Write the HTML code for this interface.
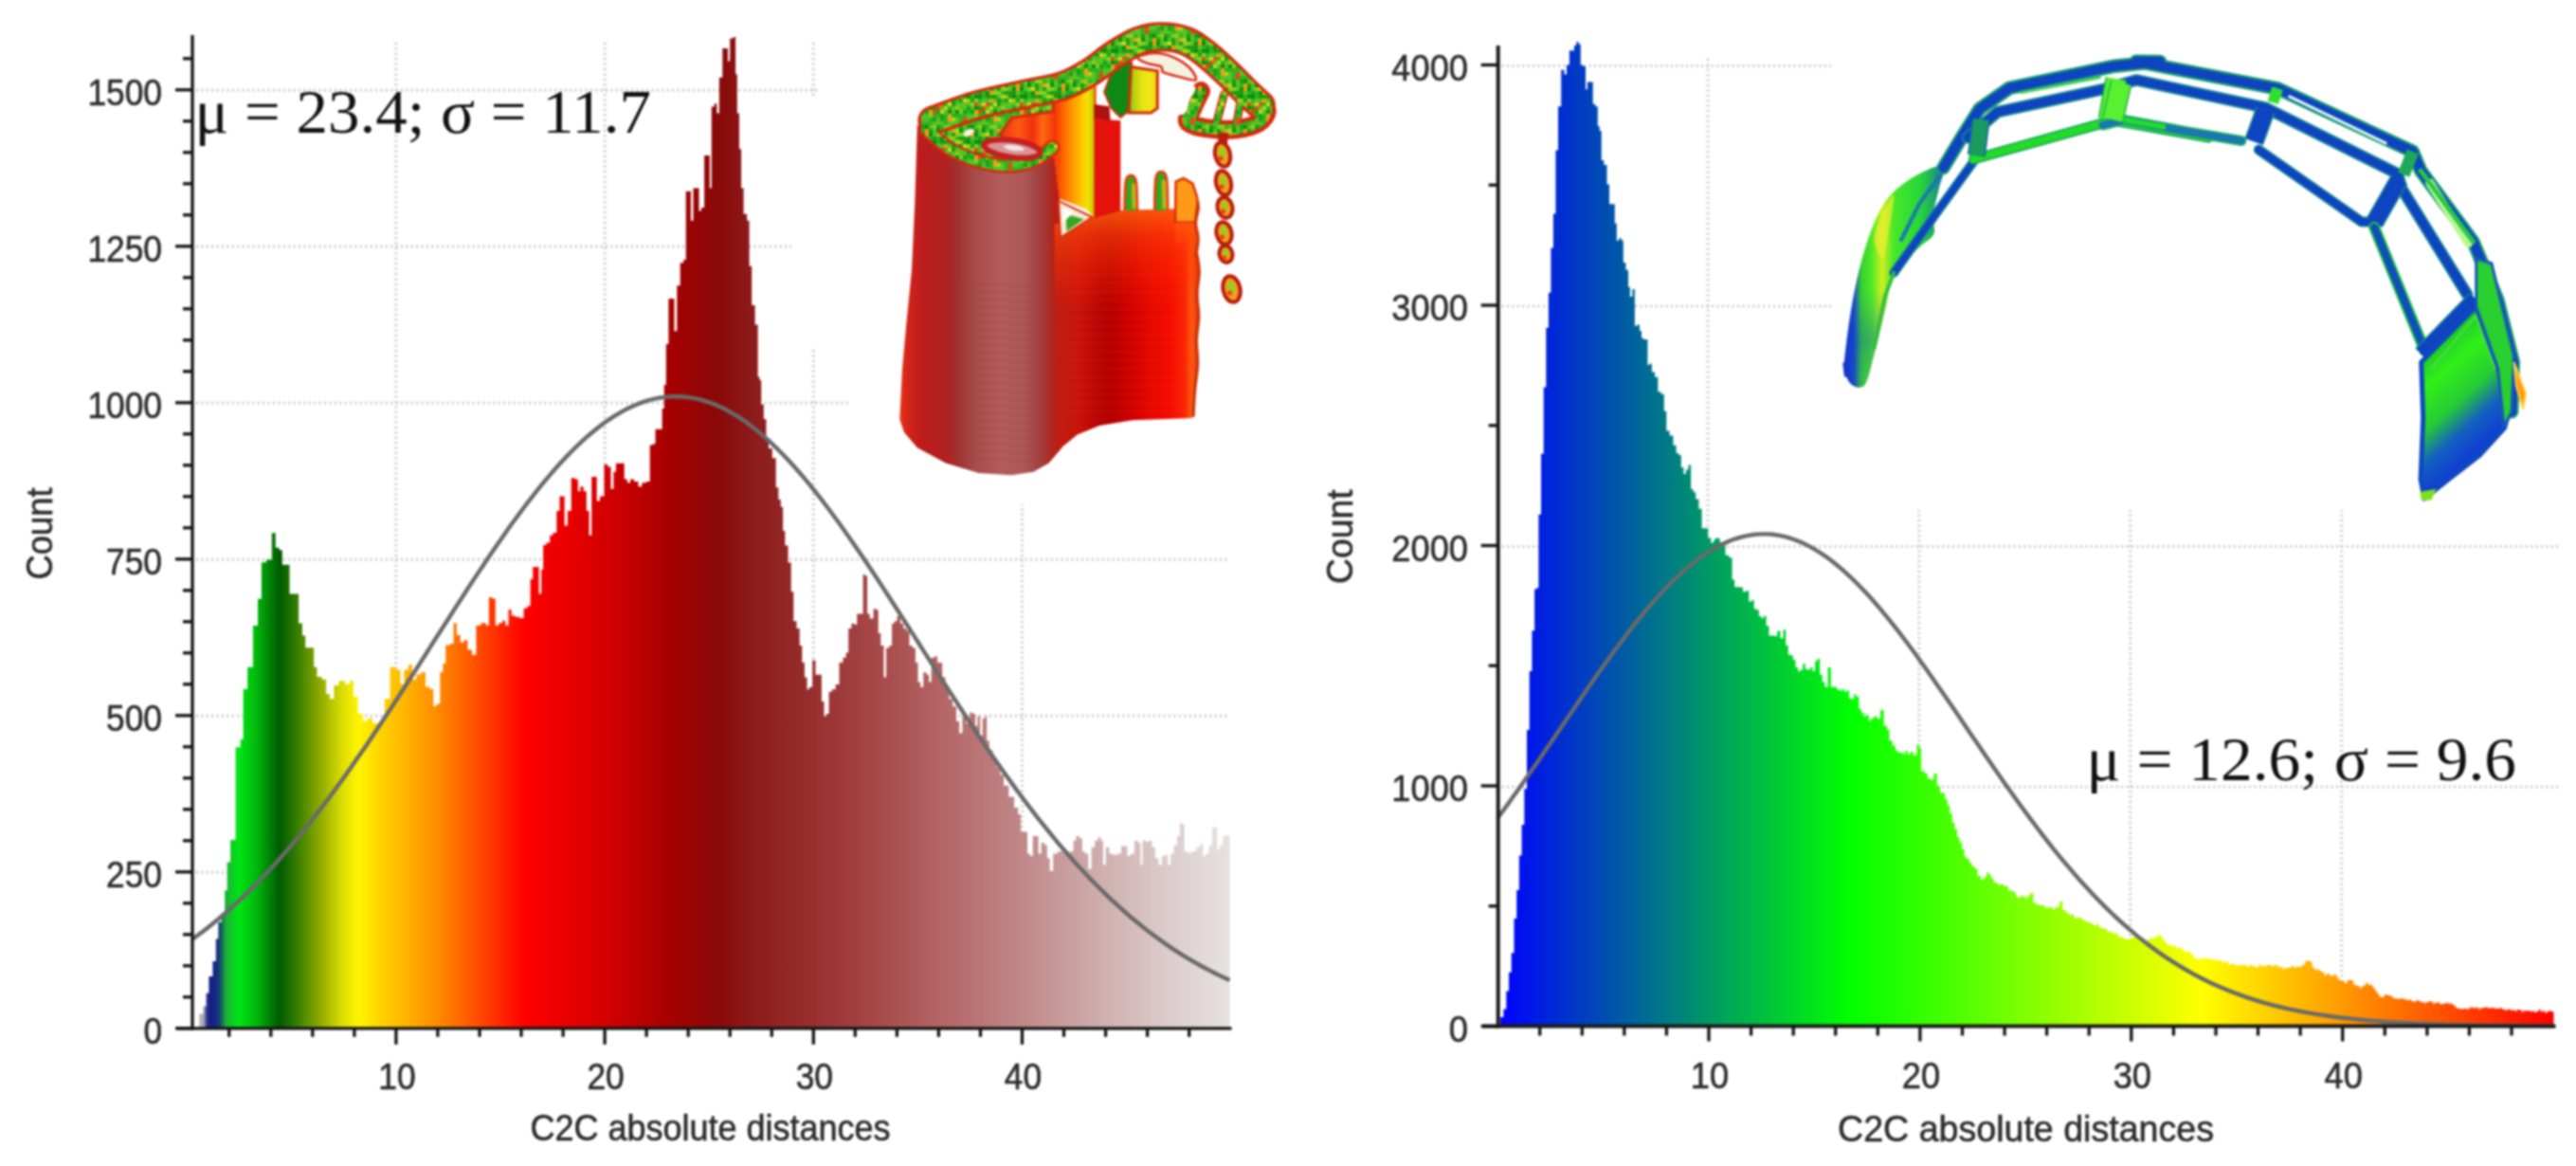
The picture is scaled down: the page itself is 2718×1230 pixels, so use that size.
<!DOCTYPE html>
<html><head><meta charset="utf-8"><title>C2C absolute distances</title>
<style>html,body{margin:0;padding:0;background:#fff}body{width:2718px;height:1230px;overflow:hidden;font-family:"Liberation Sans",sans-serif}svg{display:block}#wrap{width:2718px;height:1230px;filter:blur(1px)}</style>
</head><body>
<div id="wrap">
<svg width="2718" height="1230" viewBox="0 0 2718 1230">
<defs>
<linearGradient id="gl" gradientUnits="userSpaceOnUse" x1="197.7" y1="0" x2="1298.7" y2="0">
<stop offset="0.0090" stop-color="#d0d0d0"/>
<stop offset="0.0160" stop-color="#a0a0a8"/>
<stop offset="0.0180" stop-color="#40469a"/>
<stop offset="0.0210" stop-color="#141e82"/>
<stop offset="0.0280" stop-color="#162a84"/>
<stop offset="0.0324" stop-color="#155a60"/>
<stop offset="0.0370" stop-color="#1cb038"/>
<stop offset="0.0490" stop-color="#00e614"/>
<stop offset="0.0660" stop-color="#00b80c"/>
<stop offset="0.0884" stop-color="#005a00"/>
<stop offset="0.1020" stop-color="#2a7800"/>
<stop offset="0.1260" stop-color="#8aa800"/>
<stop offset="0.1480" stop-color="#dadc00"/>
<stop offset="0.1640" stop-color="#fff500"/>
<stop offset="0.1820" stop-color="#ffd800"/>
<stop offset="0.2400" stop-color="#ff8a00"/>
<stop offset="0.2800" stop-color="#ff4a00"/>
<stop offset="0.3230" stop-color="#ff0000"/>
<stop offset="0.4000" stop-color="#d40000"/>
<stop offset="0.4600" stop-color="#a80000"/>
<stop offset="0.5060" stop-color="#8a0808"/>
<stop offset="0.5400" stop-color="#8c1a1a"/>
<stop offset="0.6000" stop-color="#982f2f"/>
<stop offset="0.6600" stop-color="#a64848"/>
<stop offset="0.7200" stop-color="#b46464"/>
<stop offset="0.8000" stop-color="#c08888"/>
<stop offset="0.8800" stop-color="#d0b0b0"/>
<stop offset="0.9400" stop-color="#dccccc"/>
<stop offset="1.0000" stop-color="#e6e2e2"/>
</linearGradient>
<linearGradient id="gr" gradientUnits="userSpaceOnUse" x1="1580.1" y1="0" x2="2694.6" y2="0">
<stop offset="0.0000" stop-color="#0000ff"/>
<stop offset="0.3334" stop-color="#00ff00"/>
<stop offset="0.6666" stop-color="#ffff00"/>
<stop offset="1.0000" stop-color="#ff0000"/>
</linearGradient>
<pattern id="spk" width="48" height="48" patternUnits="userSpaceOnUse"><rect width="48" height="48" fill="#2fb41e"/><rect x="0" y="4" width="4" height="4" fill="#b8d81c"/><rect x="0" y="12" width="4" height="4" fill="#60c020"/><rect x="0" y="16" width="4" height="4" fill="#8ed020"/><rect x="0" y="20" width="4" height="4" fill="#0e8a10"/><rect x="0" y="28" width="4" height="4" fill="#60c020"/><rect x="0" y="32" width="4" height="4" fill="#60c020"/><rect x="0" y="36" width="4" height="4" fill="#48c828"/><rect x="0" y="40" width="4" height="4" fill="#b8d81c"/><rect x="0" y="44" width="4" height="4" fill="#8ed020"/><rect x="4" y="0" width="4" height="4" fill="#1e9a12"/><rect x="4" y="4" width="4" height="4" fill="#8ed020"/><rect x="4" y="8" width="4" height="4" fill="#1e9a12"/><rect x="4" y="12" width="4" height="4" fill="#48c828"/><rect x="4" y="16" width="4" height="4" fill="#60c020"/><rect x="4" y="20" width="4" height="4" fill="#8ed020"/><rect x="4" y="36" width="4" height="4" fill="#1e9a12"/><rect x="4" y="40" width="4" height="4" fill="#0e8a10"/><rect x="4" y="44" width="4" height="4" fill="#8ed020"/><rect x="8" y="0" width="4" height="4" fill="#1e9a12"/><rect x="8" y="4" width="4" height="4" fill="#1e9a12"/><rect x="8" y="8" width="4" height="4" fill="#d8d820"/><rect x="8" y="12" width="4" height="4" fill="#60c020"/><rect x="8" y="16" width="4" height="4" fill="#48c828"/><rect x="8" y="20" width="4" height="4" fill="#18a018"/><rect x="8" y="28" width="4" height="4" fill="#e84818"/><rect x="8" y="32" width="4" height="4" fill="#e84818"/><rect x="8" y="36" width="4" height="4" fill="#60c020"/><rect x="8" y="40" width="4" height="4" fill="#48c828"/><rect x="8" y="44" width="4" height="4" fill="#60c020"/><rect x="12" y="0" width="4" height="4" fill="#1e9a12"/><rect x="12" y="4" width="4" height="4" fill="#0e8a10"/><rect x="12" y="8" width="4" height="4" fill="#8ed020"/><rect x="12" y="12" width="4" height="4" fill="#60c020"/><rect x="12" y="16" width="4" height="4" fill="#18a018"/><rect x="12" y="24" width="4" height="4" fill="#48c828"/><rect x="12" y="28" width="4" height="4" fill="#60c020"/><rect x="12" y="36" width="4" height="4" fill="#18a018"/><rect x="12" y="44" width="4" height="4" fill="#0e8a10"/><rect x="16" y="0" width="4" height="4" fill="#60c020"/><rect x="16" y="8" width="4" height="4" fill="#18a018"/><rect x="16" y="12" width="4" height="4" fill="#8ed020"/><rect x="16" y="16" width="4" height="4" fill="#48c828"/><rect x="16" y="20" width="4" height="4" fill="#18a018"/><rect x="16" y="24" width="4" height="4" fill="#48c828"/><rect x="16" y="28" width="4" height="4" fill="#48c828"/><rect x="16" y="36" width="4" height="4" fill="#0e8a10"/><rect x="16" y="40" width="4" height="4" fill="#f0a018"/><rect x="16" y="44" width="4" height="4" fill="#f0a018"/><rect x="20" y="4" width="4" height="4" fill="#0e8a10"/><rect x="20" y="8" width="4" height="4" fill="#8ed020"/><rect x="20" y="12" width="4" height="4" fill="#e84818"/><rect x="20" y="16" width="4" height="4" fill="#0e8a10"/><rect x="20" y="20" width="4" height="4" fill="#f0a018"/><rect x="20" y="24" width="4" height="4" fill="#8ed020"/><rect x="20" y="36" width="4" height="4" fill="#60c020"/><rect x="20" y="40" width="4" height="4" fill="#1e9a12"/><rect x="20" y="44" width="4" height="4" fill="#0e8a10"/><rect x="24" y="0" width="4" height="4" fill="#18a018"/><rect x="24" y="4" width="4" height="4" fill="#0e8a10"/><rect x="24" y="12" width="4" height="4" fill="#60c020"/><rect x="24" y="16" width="4" height="4" fill="#18a018"/><rect x="24" y="20" width="4" height="4" fill="#e84818"/><rect x="24" y="28" width="4" height="4" fill="#1e9a12"/><rect x="24" y="32" width="4" height="4" fill="#60c020"/><rect x="24" y="36" width="4" height="4" fill="#8ed020"/><rect x="24" y="40" width="4" height="4" fill="#48c828"/><rect x="24" y="44" width="4" height="4" fill="#48c828"/><rect x="28" y="8" width="4" height="4" fill="#48c828"/><rect x="28" y="12" width="4" height="4" fill="#d8d820"/><rect x="28" y="16" width="4" height="4" fill="#e84818"/><rect x="28" y="20" width="4" height="4" fill="#18a018"/><rect x="28" y="28" width="4" height="4" fill="#60c020"/><rect x="28" y="32" width="4" height="4" fill="#60c020"/><rect x="28" y="36" width="4" height="4" fill="#1e9a12"/><rect x="28" y="40" width="4" height="4" fill="#0e8a10"/><rect x="28" y="44" width="4" height="4" fill="#8ed020"/><rect x="32" y="0" width="4" height="4" fill="#0e8a10"/><rect x="32" y="4" width="4" height="4" fill="#1e9a12"/><rect x="32" y="8" width="4" height="4" fill="#48c828"/><rect x="32" y="12" width="4" height="4" fill="#e84818"/><rect x="32" y="16" width="4" height="4" fill="#60c020"/><rect x="32" y="20" width="4" height="4" fill="#d8d820"/><rect x="32" y="24" width="4" height="4" fill="#18a018"/><rect x="32" y="28" width="4" height="4" fill="#18a018"/><rect x="32" y="32" width="4" height="4" fill="#48c828"/><rect x="32" y="40" width="4" height="4" fill="#48c828"/><rect x="32" y="44" width="4" height="4" fill="#d8d820"/><rect x="36" y="0" width="4" height="4" fill="#f0a018"/><rect x="36" y="4" width="4" height="4" fill="#18a018"/><rect x="36" y="8" width="4" height="4" fill="#f0a018"/><rect x="36" y="16" width="4" height="4" fill="#b8d81c"/><rect x="36" y="20" width="4" height="4" fill="#48c828"/><rect x="36" y="36" width="4" height="4" fill="#8ed020"/><rect x="36" y="40" width="4" height="4" fill="#1e9a12"/><rect x="36" y="44" width="4" height="4" fill="#18a018"/><rect x="40" y="0" width="4" height="4" fill="#8ed020"/><rect x="40" y="4" width="4" height="4" fill="#1e9a12"/><rect x="40" y="8" width="4" height="4" fill="#60c020"/><rect x="40" y="12" width="4" height="4" fill="#d8d820"/><rect x="40" y="20" width="4" height="4" fill="#0e8a10"/><rect x="40" y="24" width="4" height="4" fill="#f0a018"/><rect x="40" y="28" width="4" height="4" fill="#f0a018"/><rect x="40" y="32" width="4" height="4" fill="#60c020"/><rect x="40" y="36" width="4" height="4" fill="#8ed020"/><rect x="40" y="40" width="4" height="4" fill="#60c020"/><rect x="40" y="44" width="4" height="4" fill="#60c020"/><rect x="44" y="0" width="4" height="4" fill="#8ed020"/><rect x="44" y="4" width="4" height="4" fill="#48c828"/><rect x="44" y="8" width="4" height="4" fill="#1e9a12"/><rect x="44" y="12" width="4" height="4" fill="#1e9a12"/><rect x="44" y="16" width="4" height="4" fill="#60c020"/><rect x="44" y="20" width="4" height="4" fill="#48c828"/><rect x="44" y="28" width="4" height="4" fill="#b8d81c"/><rect x="44" y="32" width="4" height="4" fill="#48c828"/><rect x="44" y="40" width="4" height="4" fill="#f0a018"/><rect x="44" y="44" width="4" height="4" fill="#18a018"/></pattern>
<linearGradient id="cyl" gradientUnits="userSpaceOnUse" x1="950.0" y1="0" x2="1122.0" y2="0"><stop offset="0.0000" stop-color="#e83214"/><stop offset="0.0407" stop-color="#d42618"/><stop offset="0.1279" stop-color="#bc1c1c"/><stop offset="0.2791" stop-color="#b02020"/><stop offset="0.3488" stop-color="#a03030"/><stop offset="0.4535" stop-color="#a84a4a"/><stop offset="0.6163" stop-color="#b25c5c"/><stop offset="0.7500" stop-color="#ae5858"/><stop offset="0.8721" stop-color="#a03c3c"/><stop offset="0.9419" stop-color="#b42218"/><stop offset="1.0000" stop-color="#c8160c"/></linearGradient>
<linearGradient id="rbody" gradientUnits="userSpaceOnUse" x1="1116.0" y1="0" x2="1266.0" y2="0"><stop offset="0.0000" stop-color="#be1e14"/><stop offset="0.1400" stop-color="#c8140a"/><stop offset="0.2933" stop-color="#b80404"/><stop offset="0.3733" stop-color="#b40000"/><stop offset="0.5267" stop-color="#d20000"/><stop offset="0.6600" stop-color="#e60800"/><stop offset="0.7933" stop-color="#f40c00"/><stop offset="0.8933" stop-color="#fa2404"/><stop offset="0.9400" stop-color="#ff5a10"/><stop offset="0.9733" stop-color="#f0420c"/><stop offset="1.0000" stop-color="#d83008"/></linearGradient>
<linearGradient id="rtop" gradientUnits="userSpaceOnUse" x1="0" y1="215.0" x2="0" y2="330.0"><stop offset="0.0000" stop-color="#ff7010" stop-opacity="0.85"/><stop offset="0.3043" stop-color="#ff4808" stop-opacity="0.55"/><stop offset="1.0000" stop-color="#ff2000" stop-opacity="0.0"/></linearGradient>
<linearGradient id="ocol" gradientUnits="userSpaceOnUse" x1="1110.0" y1="0" x2="1154.0" y2="0"><stop offset="0.0000" stop-color="#f42a08"/><stop offset="0.2273" stop-color="#ff5a00"/><stop offset="0.5000" stop-color="#ff9a00"/><stop offset="0.7273" stop-color="#ffc800"/><stop offset="0.8636" stop-color="#f0e400"/><stop offset="1.0000" stop-color="#c4c400"/></linearGradient>
<linearGradient id="back" gradientUnits="userSpaceOnUse" x1="1040.0" y1="0" x2="1112.0" y2="0"><stop offset="0.0000" stop-color="#e02010"/><stop offset="0.2778" stop-color="#f04010"/><stop offset="0.4861" stop-color="#ff5a10"/><stop offset="0.6944" stop-color="#f03010"/><stop offset="0.8333" stop-color="#ff6a10"/><stop offset="1.0000" stop-color="#f43a0c"/></linearGradient>
<linearGradient id="ycol" gradientUnits="userSpaceOnUse" x1="1190.0" y1="0" x2="1222.0" y2="0"><stop offset="0.0000" stop-color="#58b810"/><stop offset="0.1875" stop-color="#b4d010"/><stop offset="0.5000" stop-color="#e8e410"/><stop offset="0.7500" stop-color="#f0e818"/><stop offset="1.0000" stop-color="#e8d010"/></linearGradient>
<linearGradient id="leg" gradientUnits="userSpaceOnUse" x1="1945.0" y1="0" x2="2052.0" y2="0"><stop offset="0.0000" stop-color="#1030d0"/><stop offset="0.1028" stop-color="#1848c8"/><stop offset="0.1776" stop-color="#38d030"/><stop offset="0.2804" stop-color="#50e828"/><stop offset="0.3832" stop-color="#d0f020"/><stop offset="0.4953" stop-color="#48e828"/><stop offset="0.7477" stop-color="#28d838"/><stop offset="0.8879" stop-color="#20a868"/><stop offset="1.0000" stop-color="#1060b0"/></linearGradient>
<linearGradient id="p5" gradientUnits="userSpaceOnUse" x1="2560" y1="360" x2="2640" y2="450"><stop offset="0" stop-color="#18b830"/><stop offset="0.3" stop-color="#30f018"/><stop offset="0.58" stop-color="#26cc34"/><stop offset="0.8" stop-color="#1460c0"/><stop offset="1" stop-color="#1040d0"/></linearGradient>
<linearGradient id="legv" gradientUnits="userSpaceOnUse" x1="0" y1="230" x2="0" y2="400"><stop offset="0" stop-color="#1040d0" stop-opacity="0"/><stop offset="0.45" stop-color="#1040d0" stop-opacity="0"/><stop offset="0.75" stop-color="#1038d0" stop-opacity="0.3"/><stop offset="1" stop-color="#1050c0" stop-opacity="0.15"/></linearGradient>
</defs>
<rect width="2718" height="1230" fill="#fff"/>
<line x1="207.0" y1="920.1" x2="1297.5" y2="920.1" stroke="#cbcbcb" stroke-width="3.2" stroke-dasharray="2 3.4"/>
<line x1="207.0" y1="755.1" x2="1297.5" y2="755.1" stroke="#cbcbcb" stroke-width="3.2" stroke-dasharray="2 3.4"/>
<line x1="207.0" y1="590.1" x2="1297.5" y2="590.1" stroke="#cbcbcb" stroke-width="3.2" stroke-dasharray="2 3.4"/>
<line x1="207.0" y1="425.1" x2="1297.5" y2="425.1" stroke="#cbcbcb" stroke-width="3.2" stroke-dasharray="2 3.4"/>
<line x1="207.0" y1="260.1" x2="1297.5" y2="260.1" stroke="#cbcbcb" stroke-width="3.2" stroke-dasharray="2 3.4"/>
<line x1="207.0" y1="95.1" x2="1297.5" y2="95.1" stroke="#cbcbcb" stroke-width="3.2" stroke-dasharray="2 3.4"/>
<line x1="417.9" y1="45" x2="417.9" y2="1084.8" stroke="#cbcbcb" stroke-width="3.2" stroke-dasharray="2 3.4"/>
<line x1="638.1" y1="45" x2="638.1" y2="1084.8" stroke="#cbcbcb" stroke-width="3.2" stroke-dasharray="2 3.4"/>
<line x1="858.3" y1="45" x2="858.3" y2="1084.8" stroke="#cbcbcb" stroke-width="3.2" stroke-dasharray="2 3.4"/>
<line x1="1078.5" y1="45" x2="1078.5" y2="1084.8" stroke="#cbcbcb" stroke-width="3.2" stroke-dasharray="2 3.4"/>
<line x1="1584.7" y1="830.0" x2="2700.5" y2="830.0" stroke="#cbcbcb" stroke-width="3.2" stroke-dasharray="2 3.4"/>
<line x1="1584.7" y1="576.5" x2="2700.5" y2="576.5" stroke="#cbcbcb" stroke-width="3.2" stroke-dasharray="2 3.4"/>
<line x1="1584.7" y1="323.0" x2="2700.5" y2="323.0" stroke="#cbcbcb" stroke-width="3.2" stroke-dasharray="2 3.4"/>
<line x1="1584.7" y1="69.5" x2="2700.5" y2="69.5" stroke="#cbcbcb" stroke-width="3.2" stroke-dasharray="2 3.4"/>
<line x1="1802.0" y1="62" x2="1802.0" y2="1082.5" stroke="#cbcbcb" stroke-width="3.2" stroke-dasharray="2 3.4"/>
<line x1="2024.9" y1="62" x2="2024.9" y2="1082.5" stroke="#cbcbcb" stroke-width="3.2" stroke-dasharray="2 3.4"/>
<line x1="2247.8" y1="62" x2="2247.8" y2="1082.5" stroke="#cbcbcb" stroke-width="3.2" stroke-dasharray="2 3.4"/>
<line x1="2470.7" y1="62" x2="2470.7" y2="1082.5" stroke="#cbcbcb" stroke-width="3.2" stroke-dasharray="2 3.4"/>
<rect x="895" y="0" width="440" height="532" fill="#fff"/>
<rect x="862" y="0" width="40" height="104" fill="#fff"/>
<rect x="835" y="104" width="70" height="264" fill="#fff"/>
<rect x="1932" y="0" width="786" height="538" fill="#fff"/>
<path d="M207.0,1084.8L207.0,1083.2L210.1,1083.2L210.1,1069.4L214.5,1069.4L214.5,1061.5L217.5,1061.5L217.5,1047.7L220.4,1047.7L220.4,1029.9L224.4,1029.9L224.4,1014.1L227.8,1014.1L227.8,990.5L230.3,990.5L230.3,972.7L233.8,972.7L233.8,962.9L237.2,962.9L237.2,939.2L239.7,939.2L239.7,909.6L243.1,909.6L243.1,885.9L248.6,885.9L248.6,788.3L253.7,788.3L253.7,780.0L256.6,780.0L256.6,727.0L261.1,727.0L261.1,703.8L266.9,703.8L266.9,660.1L272.0,660.1L272.0,631.8L275.9,631.8L275.9,593.2L281.0,593.2L281.0,590.6L286.8,590.6L286.8,562.3L290.7,562.3L290.7,577.8L294.5,577.8L294.5,580.3L297.8,580.3L297.8,595.8L301.6,595.8L301.6,595.8L305.5,595.8L305.5,626.6L310.0,626.6L310.0,626.6L315.1,626.6L315.1,657.5L319.0,657.5L319.0,670.4L322.2,670.4L322.2,683.2L326.7,683.2L326.7,683.2L331.2,683.2L331.2,703.8L334.4,703.8L334.4,714.1L339.6,714.1L339.6,716.7L344.1,716.7L344.1,732.1L347.9,732.1L347.9,737.3L352.4,737.3L352.4,723.1L357.6,723.1L357.6,718.3L364.0,718.3L364.0,721.8L369.2,721.8L369.2,718.0L373.0,718.0L373.0,734.7L377.5,734.7L377.5,752.7L382.7,752.7L382.7,760.4L387.8,760.4L387.8,757.8L393.0,757.8L393.0,763.0L399.4,763.0L399.4,763.0L405.8,763.0L405.8,737.3L411.6,737.3L411.6,703.8L418.0,703.8L418.0,706.4L422.5,706.4L422.5,721.8L426.4,721.8L426.4,706.4L430.9,706.4L430.9,701.3L434.8,701.3L434.8,716.7L439.3,716.7L439.3,711.5L444.4,711.5L444.4,709.0L448.9,709.0L448.9,724.4L453.4,724.4L453.4,727.0L457.3,727.0L457.3,745.0L460.5,745.0L460.5,742.4L464.3,742.4L464.3,709.0L467.3,709.0L467.3,700.0L470.2,700.0L470.2,680.4L474.7,680.4L474.7,679.1L478.6,679.1L478.6,657.3L481.8,657.3L481.8,670.1L485.7,670.1L485.7,677.8L489.5,677.8L489.5,675.3L493.4,675.3L493.4,685.6L497.9,685.6L497.9,690.7L502.4,690.7L502.4,659.8L507.5,659.8L507.5,657.3L512.7,657.3L512.7,659.8L515.9,659.8L515.9,630.3L519.5,630.3L519.5,631.5L522.7,631.5L522.7,659.8L526.2,659.8L526.2,657.3L530.0,657.3L530.0,654.7L533.3,654.7L533.3,659.8L536.5,659.8L536.5,643.1L539.7,643.1L539.7,649.5L543.6,649.5L543.6,650.8L548.1,650.8L548.1,652.1L552.6,652.1L552.6,641.8L556.4,641.8L556.4,639.3L559.6,639.3L559.6,611.0L562.2,611.0L562.2,598.1L565.4,598.1L565.4,598.1L568.6,598.1L568.6,626.4L571.2,626.4L571.2,600.7L573.1,600.7L573.1,574.9L576.4,574.9L576.4,572.4L580.2,572.4L580.2,564.7L583.4,564.7L583.4,562.1L587.3,562.1L587.3,538.9L590.5,538.9L590.5,523.5L593.1,523.5L593.1,523.5L595.6,523.5L595.6,554.4L598.9,554.4L598.9,538.9L602.7,538.9L602.7,504.2L606.6,504.2L606.6,505.5L609.8,505.5L609.8,518.3L612.4,518.3L612.4,513.2L615.6,513.2L615.6,518.3L618.8,518.3L618.8,538.9L621.6,538.9L621.6,564.7L624.2,564.7L624.2,502.9L627.2,502.9L627.2,502.9L629.7,502.9L629.7,528.6L633.0,528.6L633.0,523.5L637.5,523.5L637.5,490.0L641.3,490.0L641.3,492.6L644.5,492.6L644.5,515.8L647.4,515.8L647.4,497.8L649.9,497.8L649.9,488.8L654.2,488.8L654.2,488.8L658.7,488.8L658.7,505.5L661.9,505.5L661.9,509.3L665.1,509.3L665.1,505.5L669.0,505.5L669.0,508.1L673.5,508.1L673.5,513.2L677.3,513.2L677.3,509.3L681.8,509.3L681.8,508.1L685.7,508.1L685.7,469.5L688.9,469.5L688.9,468.2L691.5,468.2L691.5,452.7L694.7,452.7L694.7,452.7L698.6,452.7L698.6,430.9L700.7,430.9L700.7,406.1L702.8,406.1L702.8,363.1L705.4,363.1L705.4,315.0L708.5,315.0L708.5,315.0L711.4,315.0L711.4,349.3L714.3,349.3L714.3,301.3L717.7,301.3L717.7,277.3L721.2,277.3L721.2,273.9L723.7,273.9L723.7,201.8L726.3,201.8L726.3,201.8L728.9,201.8L728.9,232.7L731.5,232.7L731.5,198.4L734.9,198.4L734.9,198.4L737.5,198.4L737.5,222.4L740.0,222.4L740.0,219.0L743.1,219.0L743.1,164.1L746.2,164.1L746.2,164.1L748.8,164.1L748.8,198.4L750.8,198.4L750.8,112.6L753.8,112.6L753.8,109.2L756.3,109.2L756.3,119.5L758.9,119.5L758.9,81.7L762.3,81.7L762.3,50.9L765.8,50.9L765.8,50.9L768.0,50.9L768.0,64.6L770.2,64.6L770.2,40.6L773.7,40.6L773.7,38.9L776.1,38.9L776.1,78.3L777.8,78.3L777.8,119.5L780.0,119.5L780.0,157.2L782.1,157.2L782.1,198.4L784.6,198.4L784.6,225.8L788.1,225.8L788.1,232.7L790.6,232.7L790.6,280.7L793.2,280.7L793.2,321.9L796.6,321.9L796.6,342.5L799.6,342.5L799.6,397.4L801.4,397.4L801.4,401.0L803.2,401.0L803.2,426.7L805.8,426.7L805.8,442.1L808.4,442.1L808.4,462.7L811.0,462.7L811.0,473.0L814.8,473.0L814.8,483.3L818.7,483.3L818.7,514.2L821.3,514.2L821.3,527.1L823.8,527.1L823.8,534.8L826.1,534.8L826.1,560.0L828.3,560.0L828.3,575.4L831.5,575.4L831.5,593.4L834.7,593.4L834.7,624.3L837.3,624.3L837.3,655.2L840.5,655.2L840.5,662.9L843.7,662.9L843.7,680.9L846.3,680.9L846.3,698.9L848.9,698.9L848.9,714.4L851.5,714.4L851.5,727.2L854.0,727.2L854.0,724.7L857.2,724.7L857.2,696.4L860.5,696.4L860.5,711.8L863.7,711.8L863.7,711.8L866.9,711.8L866.9,740.1L869.5,740.1L869.5,755.5L872.0,755.5L872.0,753.0L874.6,753.0L874.6,729.8L877.8,729.8L877.8,727.2L881.7,727.2L881.7,722.1L885.5,722.1L885.5,698.9L889.4,698.9L889.4,693.8L892.6,693.8L892.6,688.6L895.2,688.6L895.2,662.9L898.4,662.9L898.4,657.8L901.6,657.8L901.6,659.0L904.2,659.0L904.2,647.5L907.4,647.5L907.4,647.5L910.6,647.5L910.6,606.3L913.2,606.3L913.2,607.6L915.1,607.6L915.1,647.5L917.7,647.5L917.7,652.6L921.6,652.6L921.6,642.3L924.8,642.3L924.8,643.6L926.7,643.6L926.7,668.1L929.3,668.1L929.3,680.9L932.5,680.9L932.5,714.4L935.1,714.4L935.1,683.5L938.3,683.5L938.3,680.9L941.1,680.9L941.1,657.8L943.7,657.8L943.7,655.2L946.6,655.2L946.6,650.0L949.9,650.0L949.9,657.8L953.1,657.8L953.1,662.9L956.3,662.9L956.3,665.5L959.5,665.5L959.5,680.9L962.7,680.9L962.7,683.5L965.9,683.5L965.9,698.9L968.5,698.9L968.5,719.5L971.1,719.5L971.1,724.7L974.3,724.7L974.3,709.2L977.5,709.2L977.5,711.8L980.1,711.8L980.1,719.5L982.7,719.5L982.7,693.8L985.9,693.8L985.9,692.5L989.1,692.5L989.1,698.9L991.7,698.9L991.7,698.9L994.2,698.9L994.2,714.4L997.5,714.4L997.5,724.7L1001.3,724.7L1001.3,737.5L1005.2,737.5L1005.2,745.2L1009.0,745.2L1009.0,760.7L1012.2,760.7L1012.2,773.5L1015.5,773.5L1015.5,755.5L1019.3,755.5L1019.3,763.2L1023.2,763.2L1023.2,751.7L1026.4,751.7L1026.4,753.0L1029.0,753.0L1029.0,765.8L1031.5,765.8L1031.5,755.5L1034.1,755.5L1034.1,776.1L1036.7,776.1L1036.7,758.1L1039.3,758.1L1039.3,755.5L1041.2,755.5L1041.2,781.3L1043.8,781.3L1043.8,791.5L1047.6,791.5L1047.6,799.3L1051.5,799.3L1051.5,809.5L1055.3,809.5L1055.3,817.3L1059.1,817.3L1059.1,828.8L1064.3,828.8L1064.3,840.4L1070.1,840.4L1070.1,852.0L1074.2,852.0L1074.2,858.9L1077.0,858.9L1077.0,877.5L1080.5,877.5L1080.5,877.5L1084.0,877.5L1084.0,900.6L1086.9,900.6L1086.9,902.9L1089.8,902.9L1089.8,882.1L1092.7,882.1L1092.7,882.1L1095.6,882.1L1095.6,900.6L1098.7,900.6L1098.7,889.0L1102.2,889.0L1102.2,891.4L1104.8,891.4L1104.8,905.2L1107.7,905.2L1107.7,919.1L1111.2,919.1L1111.2,900.6L1115.8,900.6L1115.8,898.3L1122.2,898.3L1122.2,900.6L1128.6,900.6L1128.6,898.3L1132.6,898.3L1132.6,886.7L1135.5,886.7L1135.5,882.1L1139.0,882.1L1139.0,884.4L1141.9,884.4L1141.9,898.3L1144.8,898.3L1144.8,900.6L1148.3,900.6L1148.3,916.8L1151.7,916.8L1151.7,893.7L1155.2,893.7L1155.2,886.7L1158.7,886.7L1158.7,883.3L1161.6,883.3L1161.6,886.7L1163.9,886.7L1163.9,912.2L1166.8,912.2L1166.8,893.7L1170.3,893.7L1170.3,900.6L1174.3,900.6L1174.3,901.8L1178.9,901.8L1178.9,900.6L1183.0,900.6L1183.0,892.5L1186.5,892.5L1186.5,892.5L1189.4,892.5L1189.4,902.9L1192.8,902.9L1192.8,900.6L1196.9,900.6L1196.9,886.7L1200.4,886.7L1200.4,889.0L1203.3,889.0L1203.3,912.2L1205.6,912.2L1205.6,886.7L1209.0,886.7L1209.0,887.9L1212.5,887.9L1212.5,886.7L1215.4,886.7L1215.4,893.7L1218.9,893.7L1218.9,905.2L1222.4,905.2L1222.4,912.2L1225.8,912.2L1225.8,902.9L1229.3,902.9L1229.3,901.8L1232.2,901.8L1232.2,912.2L1235.1,912.2L1235.1,900.6L1238.6,900.6L1238.6,891.4L1242.0,891.4L1242.0,882.1L1244.9,882.1L1244.9,868.2L1247.2,868.2L1247.2,869.4L1249.6,869.4L1249.6,898.3L1253.0,898.3L1253.0,899.5L1257.7,899.5L1257.7,898.3L1262.3,898.3L1262.3,893.7L1266.4,893.7L1266.4,890.2L1269.2,890.2L1269.2,902.9L1272.1,902.9L1272.1,900.6L1275.6,900.6L1275.6,891.4L1279.1,891.4L1279.1,872.8L1282.0,872.8L1282.0,872.8L1284.3,872.8L1284.3,896.0L1287.2,896.0L1287.2,891.4L1290.1,891.4L1290.1,882.1L1293.0,882.1L1293.0,880.9L1296.1,880.9L1296.1,882.1L1297.5,882.1L1297.5,1084.8Z" fill="url(#gl)"/>
<path d="M1581.7,1082.5L1581.7,1080.8L1583.1,1080.8L1583.1,1073.0L1586.4,1073.0L1586.4,1064.6L1589.3,1064.6L1589.3,1045.6L1592.0,1045.6L1592.0,1025.8L1594.7,1025.8L1594.7,1005.2L1597.5,1005.2L1597.5,968.9L1600.2,968.9L1600.2,939.1L1602.9,939.1L1602.9,902.5L1605.6,902.5L1605.6,870.1L1608.3,870.1L1608.3,832.3L1611.0,832.3L1611.0,769.9L1613.7,769.9L1613.7,708.0L1616.4,708.0L1616.4,665.3L1619.1,665.3L1619.1,621.6L1621.2,621.6L1621.2,620.2L1623.4,620.2L1623.4,542.8L1626.0,542.8L1626.0,478.7L1628.7,478.7L1628.7,408.5L1631.3,408.5L1631.3,345.7L1633.9,345.7L1633.9,308.7L1636.4,308.7L1636.4,261.5L1638.9,261.5L1638.9,225.5L1641.4,225.5L1641.4,158.6L1644.0,158.6L1644.0,112.3L1647.2,112.3L1647.2,73.7L1650.5,73.7L1650.5,78.4L1653.0,78.4L1653.0,68.6L1655.9,68.6L1655.9,53.2L1658.6,53.2L1658.6,53.5L1660.9,53.5L1660.9,48.0L1663.3,48.0L1663.3,44.2L1665.9,44.2L1665.9,46.7L1667.8,46.7L1667.8,68.6L1670.4,68.6L1670.4,69.9L1673.0,69.9L1673.0,94.3L1674.9,94.3L1674.9,86.6L1678.1,86.6L1678.1,86.6L1680.7,86.6L1680.7,109.7L1683.2,109.7L1683.2,112.3L1685.8,112.3L1685.8,132.9L1687.7,132.9L1687.7,138.0L1689.7,138.0L1689.7,168.9L1692.3,168.9L1692.3,174.1L1695.5,174.1L1695.5,194.6L1698.0,194.6L1698.0,215.2L1701.3,215.2L1701.3,215.2L1703.8,215.2L1703.8,235.8L1705.8,235.8L1705.8,253.8L1708.3,253.8L1708.3,251.3L1710.9,251.3L1710.9,253.8L1712.8,253.8L1712.8,276.9L1715.4,276.9L1715.4,284.7L1718.0,284.7L1718.0,302.7L1719.9,302.7L1719.9,313.1L1722.4,313.1L1722.4,305.1L1724.9,305.1L1724.9,343.7L1727.5,343.7L1727.5,342.5L1730.0,342.5L1730.0,348.9L1732.0,348.9L1732.0,356.6L1733.9,356.6L1733.9,357.9L1736.5,357.9L1736.5,357.9L1738.4,357.9L1738.4,384.9L1740.3,384.9L1740.3,383.7L1742.9,383.7L1742.9,392.6L1746.1,392.6L1746.1,397.8L1749.3,397.8L1749.3,413.2L1752.6,413.2L1752.6,415.8L1755.8,415.8L1755.8,433.8L1758.3,433.8L1758.3,454.4L1761.6,454.4L1761.6,459.5L1765.4,459.5L1765.4,469.8L1768.6,469.8L1768.6,477.9L1771.2,477.9L1771.2,480.1L1773.8,480.1L1773.8,493.0L1776.4,493.0L1776.4,500.1L1778.9,500.1L1778.9,495.5L1781.5,495.5L1781.5,490.4L1784.1,490.4L1784.1,516.1L1786.6,516.1L1786.6,519.3L1789.2,519.3L1789.2,526.4L1792.4,526.4L1792.4,536.7L1795.6,536.7L1795.6,557.3L1798.9,557.3L1798.9,557.3L1802.1,557.3L1802.1,567.6L1805.3,567.6L1805.3,572.7L1807.8,572.7L1807.8,570.3L1809.6,570.3L1809.6,567.8L1812.2,567.8L1812.2,567.8L1814.7,567.8L1814.7,572.0L1817.3,572.0L1817.3,575.4L1820.5,575.4L1820.5,585.7L1824.4,585.7L1824.4,588.3L1827.6,588.3L1827.6,611.5L1830.2,611.5L1830.2,619.2L1832.7,619.2L1832.7,619.2L1835.6,619.2L1835.6,619.5L1838.9,619.5L1838.9,624.3L1842.1,624.3L1842.1,623.2L1845.3,623.2L1845.3,634.6L1848.2,634.6L1848.2,632.9L1850.7,632.9L1850.7,642.3L1853.3,642.3L1853.3,643.3L1855.9,643.3L1855.9,650.0L1858.5,650.0L1858.5,651.9L1861.0,651.9L1861.0,649.8L1863.6,649.8L1863.6,660.3L1866.5,660.3L1866.5,670.6L1869.7,670.6L1869.7,670.6L1872.6,670.6L1872.6,670.9L1875.2,670.9L1875.2,665.5L1878.4,665.5L1878.4,673.2L1881.6,673.2L1881.6,664.2L1884.2,664.2L1884.2,680.9L1886.8,680.9L1886.8,690.8L1889.3,690.8L1889.3,691.2L1891.9,691.2L1891.9,696.1L1894.5,696.1L1894.5,704.1L1897.1,704.1L1897.1,708.2L1899.6,708.2L1899.6,706.6L1902.2,706.6L1902.2,700.2L1904.8,700.2L1904.8,706.0L1907.3,706.0L1907.3,706.6L1909.9,706.6L1909.9,704.1L1912.5,704.1L1912.5,707.9L1915.1,707.9L1915.1,697.3L1917.6,697.3L1917.6,695.1L1920.2,695.1L1920.2,711.8L1922.8,711.8L1922.8,719.3L1925.4,719.3L1925.4,724.7L1928.6,724.7L1928.6,704.1L1931.8,704.1L1931.8,724.7L1934.7,724.7L1934.7,724.4L1937.9,724.4L1937.9,727.2L1940.8,727.2L1940.8,728.5L1943.4,728.5L1943.4,727.1L1945.9,727.1L1945.9,729.8L1948.5,729.8L1948.5,728.3L1951.1,728.3L1951.1,736.8L1953.7,736.8L1953.7,737.5L1956.2,737.5L1956.2,732.4L1958.8,732.4L1958.8,734.9L1961.4,734.9L1961.4,747.8L1963.9,747.8L1963.9,752.0L1966.5,752.0L1966.5,755.5L1969.1,755.5L1969.1,754.0L1971.7,754.0L1971.7,760.2L1974.2,760.2L1974.2,758.1L1977.1,758.1L1977.1,755.6L1980.3,755.6L1980.3,758.1L1983.9,758.1L1983.9,749.1L1987.7,749.1L1987.7,765.8L1991.0,765.8L1991.0,769.4L1993.5,769.4L1993.5,781.3L1996.7,781.3L1996.7,786.4L2000.0,786.4L2000.0,791.8L2002.5,791.8L2002.5,793.5L2005.1,793.5L2005.1,794.1L2007.7,794.1L2007.7,795.6L2010.3,795.6L2010.3,791.7L2012.8,791.7L2012.8,795.4L2015.7,795.4L2015.7,793.1L2018.9,793.1L2018.9,796.7L2022.5,796.7L2022.5,785.1L2024.8,785.1L2024.8,789.0L2027.1,789.0L2027.1,813.4L2030.6,813.4L2030.6,815.7L2033.8,815.7L2033.8,821.2L2037.0,821.2L2037.0,822.5L2040.3,822.5L2040.3,816.0L2043.8,816.0L2043.8,828.9L2047.0,828.9L2047.0,836.3L2049.6,836.3L2049.6,836.6L2052.2,836.6L2052.2,842.9L2054.7,842.9L2054.7,849.5L2057.3,849.5L2057.3,858.3L2059.9,858.3L2059.9,867.5L2062.4,867.5L2062.4,874.6L2065.0,874.6L2065.0,882.9L2067.6,882.9L2067.6,888.6L2070.2,888.6L2070.2,895.8L2072.7,895.8L2072.7,903.7L2075.3,903.7L2075.3,906.1L2077.9,906.1L2077.9,909.9L2080.5,909.9L2080.5,913.8L2083.4,913.8L2083.4,916.6L2086.6,916.6L2086.6,924.1L2090.1,924.1L2090.1,927.9L2093.3,927.9L2093.3,925.6L2095.9,925.6L2095.9,920.2L2098.5,920.2L2098.5,922.7L2101.0,922.7L2101.0,926.6L2103.6,926.6L2103.6,930.7L2106.2,930.7L2106.2,931.8L2108.8,931.8L2108.8,933.5L2111.3,933.5L2111.3,932.8L2113.9,932.8L2113.9,934.4L2116.5,934.4L2116.5,934.9L2119.0,934.9L2119.0,939.2L2121.6,939.2L2121.6,939.5L2124.2,939.5L2124.2,941.0L2126.8,941.0L2126.8,945.4L2129.3,945.4L2129.3,947.2L2131.9,947.2L2131.9,944.8L2134.5,944.8L2134.5,946.0L2137.1,946.0L2137.1,947.2L2139.6,947.2L2139.6,944.5L2142.2,944.5L2142.2,942.1L2145.4,942.1L2145.4,952.4L2149.0,952.4L2149.0,954.4L2152.2,954.4L2152.2,954.9L2155.1,954.9L2155.1,955.1L2157.6,955.1L2157.6,957.8L2160.2,957.8L2160.2,957.5L2162.8,957.5L2162.8,956.8L2165.4,956.8L2165.4,959.3L2167.9,959.3L2167.9,957.5L2170.5,957.5L2170.5,956.6L2173.1,956.6L2173.1,951.1L2176.3,951.1L2176.3,960.1L2179.8,960.1L2179.8,962.7L2183.0,962.7L2183.0,965.2L2185.9,965.2L2185.9,964.4L2188.5,964.4L2188.5,968.5L2191.1,968.5L2191.1,968.0L2193.7,968.0L2193.7,967.8L2196.2,967.8L2196.2,970.1L2198.8,970.1L2198.8,971.6L2201.4,971.6L2201.4,972.4L2203.9,972.4L2203.9,973.0L2206.5,973.0L2206.5,974.8L2209.1,974.8L2209.1,976.1L2211.7,976.1L2211.7,974.8L2214.2,974.8L2214.2,978.1L2216.8,978.1L2216.8,979.1L2219.4,979.1L2219.4,979.5L2222.0,979.5L2222.0,981.0L2224.5,981.0L2224.5,983.2L2227.1,983.2L2227.1,983.0L2229.7,983.0L2229.7,985.1L2232.2,985.1L2232.2,984.4L2234.8,984.4L2234.8,988.4L2237.4,988.4L2237.4,988.5L2240.0,988.5L2240.0,990.0L2242.5,990.0L2242.5,990.7L2245.1,990.7L2245.1,991.0L2247.7,991.0L2247.7,989.7L2250.3,989.7L2250.3,988.8L2252.8,988.8L2252.8,987.6L2255.4,987.6L2255.4,989.7L2258.0,989.7L2258.0,988.4L2260.5,988.4L2260.5,989.7L2263.1,989.7L2263.1,992.5L2265.7,992.5L2265.7,991.0L2268.3,991.0L2268.3,989.8L2270.8,989.8L2270.8,989.8L2273.4,989.8L2273.4,988.4L2276.0,988.4L2276.0,986.3L2278.6,986.3L2278.6,987.1L2281.1,987.1L2281.1,990.6L2283.7,990.6L2283.7,993.5L2286.3,993.5L2286.3,997.1L2288.8,997.1L2288.8,996.4L2291.4,996.4L2291.4,998.7L2294.0,998.7L2294.0,997.4L2296.6,997.4L2296.6,1000.2L2299.1,1000.2L2299.1,999.2L2301.7,999.2L2301.7,1001.3L2304.3,1001.3L2304.3,1004.0L2306.9,1004.0L2306.9,1003.6L2309.4,1003.6L2309.4,1004.3L2312.0,1004.3L2312.0,1006.4L2314.2,1006.4L2314.2,1010.6L2315.5,1010.6L2315.5,1010.8L2317.1,1010.8L2317.1,1010.5L2319.3,1010.5L2319.3,1012.5L2321.6,1012.5L2321.6,1010.3L2323.9,1010.3L2323.9,1011.3L2326.1,1011.3L2326.1,1010.7L2328.4,1010.7L2328.4,1011.5L2330.7,1011.5L2330.7,1011.6L2333.0,1011.6L2333.0,1012.0L2335.2,1012.0L2335.2,1013.0L2337.5,1013.0L2337.5,1012.3L2339.8,1012.3L2339.8,1013.2L2342.1,1013.2L2342.1,1013.1L2344.3,1013.1L2344.3,1015.3L2346.6,1015.3L2346.6,1014.8L2348.9,1014.8L2348.9,1014.5L2351.2,1014.5L2351.2,1017.4L2353.4,1017.4L2353.4,1016.5L2355.7,1016.5L2355.7,1017.1L2358.0,1017.1L2358.0,1017.9L2360.3,1017.9L2360.3,1018.4L2362.5,1018.4L2362.5,1018.0L2364.8,1018.0L2364.8,1018.3L2367.1,1018.3L2367.1,1017.8L2369.3,1017.8L2369.3,1018.5L2371.6,1018.5L2371.6,1019.7L2373.9,1019.7L2373.9,1017.6L2376.2,1017.6L2376.2,1019.2L2378.4,1019.2L2378.4,1019.6L2380.7,1019.6L2380.7,1020.7L2383.0,1020.7L2383.0,1017.5L2385.3,1017.5L2385.3,1018.7L2387.5,1018.7L2387.5,1019.4L2389.8,1019.4L2389.8,1018.4L2392.1,1018.4L2392.1,1017.8L2394.4,1017.8L2394.4,1018.0L2396.6,1018.0L2396.6,1019.6L2398.9,1019.6L2398.9,1018.2L2401.2,1018.2L2401.2,1017.9L2403.5,1017.9L2403.5,1020.5L2405.7,1020.5L2405.7,1019.5L2408.0,1019.5L2408.0,1022.1L2410.3,1022.1L2410.3,1021.2L2412.7,1021.2L2412.7,1020.8L2415.2,1020.8L2415.2,1020.5L2417.8,1020.5L2417.8,1019.0L2420.3,1019.0L2420.3,1020.4L2422.9,1020.4L2422.9,1019.6L2425.7,1019.6L2425.7,1019.9L2428.9,1019.9L2428.9,1018.0L2431.7,1018.0L2431.7,1014.3L2434.1,1014.3L2434.1,1013.2L2436.9,1013.2L2436.9,1014.8L2439.7,1014.8L2439.7,1020.4L2442.0,1020.4L2442.0,1022.8L2444.6,1022.8L2444.6,1022.4L2447.2,1022.4L2447.2,1024.0L2449.9,1024.0L2449.9,1025.9L2452.5,1025.9L2452.5,1028.5L2455.2,1028.5L2455.2,1026.9L2457.8,1026.9L2457.8,1029.1L2460.4,1029.1L2460.4,1029.7L2462.7,1029.7L2462.7,1027.5L2465.1,1027.5L2465.1,1031.1L2467.5,1031.1L2467.5,1033.9L2470.3,1033.9L2470.3,1034.5L2473.5,1034.5L2473.5,1037.1L2476.7,1037.1L2476.7,1034.1L2479.9,1034.1L2479.9,1033.9L2483.0,1033.9L2483.0,1038.7L2486.2,1038.7L2486.2,1039.8L2489.4,1039.8L2489.4,1041.9L2492.6,1041.9L2492.6,1039.7L2495.8,1039.7L2495.8,1037.1L2498.6,1037.1L2498.6,1039.0L2500.9,1039.0L2500.9,1038.7L2503.3,1038.7L2503.3,1041.7L2505.7,1041.7L2505.7,1045.0L2508.1,1045.0L2508.1,1048.5L2510.5,1048.5L2510.5,1051.4L2513.0,1051.4L2513.0,1052.1L2515.7,1052.1L2515.7,1049.1L2518.3,1049.1L2518.3,1049.8L2521.2,1049.8L2521.2,1050.5L2524.4,1050.5L2524.4,1053.0L2527.3,1053.0L2527.3,1053.3L2529.8,1053.3L2529.8,1053.8L2532.4,1053.8L2532.4,1053.3L2534.9,1053.3L2534.9,1053.6L2537.5,1053.6L2537.5,1054.6L2539.9,1054.6L2539.9,1055.0L2542.2,1055.0L2542.2,1054.6L2544.4,1054.6L2544.4,1056.2L2546.7,1056.2L2546.7,1056.5L2549.0,1056.5L2549.0,1055.2L2551.2,1055.2L2551.2,1055.6L2553.5,1055.6L2553.5,1057.0L2555.8,1057.0L2555.8,1057.3L2558.1,1057.3L2558.1,1058.2L2560.3,1058.2L2560.3,1056.9L2562.6,1056.9L2562.6,1056.2L2564.9,1056.2L2564.9,1056.4L2567.2,1056.4L2567.2,1058.8L2569.4,1058.8L2569.4,1057.8L2571.7,1057.8L2571.7,1057.2L2574.0,1057.2L2574.0,1059.2L2576.3,1059.2L2576.3,1058.9L2578.5,1058.9L2578.5,1058.5L2580.8,1058.5L2580.8,1057.7L2583.1,1057.7L2583.1,1058.7L2585.4,1058.7L2585.4,1058.6L2587.7,1058.6L2587.7,1060.3L2590.1,1060.3L2590.1,1062.6L2592.4,1062.6L2592.4,1063.7L2594.6,1063.7L2594.6,1063.9L2596.8,1063.9L2596.8,1064.4L2599.1,1064.4L2599.1,1064.0L2601.3,1064.0L2601.3,1064.1L2603.5,1064.1L2603.5,1064.6L2605.8,1064.6L2605.8,1062.6L2608.1,1062.6L2608.1,1062.7L2610.4,1062.7L2610.4,1063.6L2612.6,1063.6L2612.6,1062.4L2614.9,1062.4L2614.9,1064.4L2617.2,1064.4L2617.2,1063.3L2619.5,1063.3L2619.5,1063.3L2621.7,1063.3L2621.7,1062.6L2624.0,1062.6L2624.0,1062.9L2626.3,1062.9L2626.3,1063.5L2628.6,1063.5L2628.6,1063.1L2630.8,1063.1L2630.8,1063.5L2633.1,1063.5L2633.1,1064.1L2635.4,1064.1L2635.4,1063.9L2637.6,1063.9L2637.6,1062.9L2639.9,1062.9L2639.9,1064.5L2642.2,1064.5L2642.2,1065.5L2644.5,1065.5L2644.5,1065.2L2646.7,1065.2L2646.7,1064.6L2649.0,1064.6L2649.0,1065.7L2651.3,1065.7L2651.3,1065.4L2653.6,1065.4L2653.6,1066.5L2655.8,1066.5L2655.8,1065.0L2658.1,1065.0L2658.1,1065.2L2660.4,1065.2L2660.4,1067.4L2662.7,1067.4L2662.7,1066.0L2664.9,1066.0L2664.9,1066.5L2667.2,1066.5L2667.2,1066.1L2669.5,1066.1L2669.5,1067.3L2671.8,1067.3L2671.8,1066.3L2674.0,1066.3L2674.0,1068.0L2676.3,1068.0L2676.3,1066.9L2678.6,1066.9L2678.6,1064.7L2680.8,1064.7L2680.8,1067.3L2683.1,1067.3L2683.1,1066.2L2685.3,1066.2L2685.3,1068.5L2687.6,1068.5L2687.6,1067.0L2689.8,1067.0L2689.8,1066.3L2692.0,1066.3L2692.0,1067.3L2693.2,1067.3L2693.2,1067.3L2694.5,1067.3L2694.5,1082.5Z" fill="url(#gr)"/>
<path d="M203.0,990.8L208.5,986.8L213.9,982.7L219.4,978.4L224.9,974.0L230.4,969.5L235.8,964.8L241.3,960.0L246.8,955.1L252.3,950.1L257.7,944.9L263.2,939.6L268.7,934.1L274.1,928.5L279.6,922.8L285.1,917.0L290.6,911.0L296.0,904.8L301.5,898.6L307.0,892.2L312.5,885.7L317.9,879.1L323.4,872.3L328.9,865.4L334.3,858.4L339.8,851.3L345.3,844.0L350.8,836.7L356.2,829.2L361.7,821.7L367.2,814.0L372.6,806.2L378.1,798.3L383.6,790.4L389.1,782.4L394.5,774.2L400.0,766.1L405.5,757.8L411.0,749.5L416.4,741.1L421.9,732.7L427.4,724.2L432.8,715.7L438.3,707.2L443.8,698.6L449.3,690.0L454.7,681.4L460.2,672.8L465.7,664.3L471.2,655.7L476.6,647.2L482.1,638.6L487.6,630.2L493.0,621.7L498.5,613.4L504.0,605.1L509.5,596.9L514.9,588.7L520.4,580.7L525.9,572.7L531.4,564.9L536.8,557.1L542.3,549.5L547.8,542.1L553.2,534.8L558.7,527.6L564.2,520.6L569.7,513.7L575.1,507.1L580.6,500.6L586.1,494.3L591.5,488.3L597.0,482.4L602.5,476.8L608.0,471.3L613.4,466.1L618.9,461.2L624.4,456.5L629.9,452.0L635.3,447.8L640.8,443.8L646.3,440.2L651.7,436.8L657.2,433.6L662.7,430.8L668.2,428.2L673.6,425.9L679.1,423.9L684.6,422.2L690.1,420.8L695.5,419.7L701.0,418.9L706.5,418.4L711.9,418.2L717.4,418.3L722.9,418.7L728.4,419.4L733.8,420.4L739.3,421.7L744.8,423.3L750.2,425.1L755.7,427.3L761.2,429.8L766.7,432.5L772.1,435.6L777.6,438.9L783.1,442.4L788.6,446.3L794.0,450.4L799.5,454.8L805.0,459.4L810.4,464.2L815.9,469.4L821.4,474.7L826.9,480.3L832.3,486.0L837.8,492.0L843.3,498.2L848.8,504.6L854.2,511.2L859.7,518.0L865.2,524.9L870.6,532.0L876.1,539.3L881.6,546.7L887.1,554.3L892.5,561.9L898.0,569.7L903.5,577.7L909.0,585.7L914.4,593.8L919.9,602.0L925.4,610.3L930.8,618.6L936.3,627.0L941.8,635.5L947.3,644.0L952.7,652.5L958.2,661.0L963.7,669.6L969.2,678.2L974.6,686.8L980.1,695.4L985.6,703.9L991.0,712.5L996.5,721.0L1002.0,729.5L1007.5,737.9L1012.9,746.3L1018.4,754.7L1023.9,763.0L1029.3,771.2L1034.8,779.3L1040.3,787.4L1045.8,795.4L1051.2,803.3L1056.7,811.1L1062.2,818.8L1067.7,826.4L1073.1,833.9L1078.6,841.3L1084.1,848.6L1089.5,855.7L1095.0,862.8L1100.5,869.7L1106.0,876.5L1111.4,883.2L1116.9,889.8L1122.4,896.2L1127.9,902.5L1133.3,908.7L1138.8,914.7L1144.3,920.6L1149.7,926.4L1155.2,932.0L1160.7,937.5L1166.2,942.9L1171.6,948.1L1177.1,953.2L1182.6,958.2L1188.1,963.0L1193.5,967.8L1199.0,972.3L1204.5,976.8L1209.9,981.1L1215.4,985.3L1220.9,989.3L1226.4,993.3L1231.8,997.1L1237.3,1000.8L1242.8,1004.3L1248.2,1007.8L1253.7,1011.1L1259.2,1014.4L1264.7,1017.5L1270.1,1020.5L1275.6,1023.4L1281.1,1026.2L1286.6,1028.9L1292.0,1031.5L1297.5,1034.0" fill="none" stroke="#6a6a6a" stroke-width="4.4" stroke-linejoin="round"/>
<path d="M1580.7,862.3L1586.3,854.7L1591.8,847.1L1597.4,839.3L1603.0,831.5L1608.5,823.6L1614.1,815.6L1619.7,807.6L1625.3,799.5L1630.8,791.3L1636.4,783.2L1642.0,775.0L1647.5,766.8L1653.1,758.6L1658.7,750.4L1664.2,742.3L1669.8,734.1L1675.4,726.1L1680.9,718.1L1686.5,710.1L1692.1,702.3L1697.6,694.5L1703.2,686.8L1708.8,679.3L1714.4,671.9L1719.9,664.7L1725.5,657.6L1731.1,650.7L1736.6,644.0L1742.2,637.4L1747.8,631.1L1753.3,625.0L1758.9,619.1L1764.5,613.5L1770.0,608.1L1775.6,603.0L1781.2,598.2L1786.8,593.6L1792.3,589.4L1797.9,585.4L1803.5,581.7L1809.0,578.4L1814.6,575.4L1820.2,572.7L1825.7,570.3L1831.3,568.3L1836.9,566.6L1842.4,565.3L1848.0,564.3L1853.6,563.6L1859.2,563.4L1864.7,563.4L1870.3,563.8L1875.9,564.6L1881.4,565.7L1887.0,567.2L1892.6,569.0L1898.1,571.1L1903.7,573.6L1909.3,576.4L1914.8,579.5L1920.4,583.0L1926.0,586.8L1931.5,590.8L1937.1,595.2L1942.7,599.9L1948.3,604.8L1953.8,610.0L1959.4,615.5L1965.0,621.2L1970.5,627.1L1976.1,633.3L1981.7,639.7L1987.2,646.3L1992.8,653.1L1998.4,660.1L2003.9,667.2L2009.5,674.5L2015.1,682.0L2020.7,689.5L2026.2,697.2L2031.8,705.0L2037.4,712.9L2042.9,720.9L2048.5,728.9L2054.1,737.0L2059.6,745.1L2065.2,753.3L2070.8,761.5L2076.3,769.7L2081.9,777.9L2087.5,786.0L2093.0,794.2L2098.6,802.3L2104.2,810.4L2109.8,818.4L2115.3,826.4L2120.9,834.3L2126.5,842.1L2132.0,849.8L2137.6,857.4L2143.2,864.9L2148.7,872.3L2154.3,879.6L2159.9,886.8L2165.4,893.9L2171.0,900.8L2176.6,907.6L2182.2,914.2L2187.7,920.7L2193.3,927.1L2198.9,933.3L2204.4,939.3L2210.0,945.2L2215.6,951.0L2221.1,956.6L2226.7,962.0L2232.3,967.3L2237.8,972.4L2243.4,977.4L2249.0,982.2L2254.5,986.9L2260.1,991.4L2265.7,995.7L2271.3,999.9L2276.8,1004.0L2282.4,1007.9L2288.0,1011.6L2293.5,1015.2L2299.1,1018.7L2304.7,1022.0L2310.2,1025.2L2315.8,1028.3L2321.4,1031.2L2326.9,1034.0L2332.5,1036.7L2338.1,1039.3L2343.7,1041.7L2349.2,1044.1L2354.8,1046.3L2360.4,1048.4L2365.9,1050.4L2371.5,1052.4L2377.1,1054.2L2382.6,1055.9L2388.2,1057.6L2393.8,1059.1L2399.3,1060.6L2404.9,1062.0L2410.5,1063.3L2416.1,1064.6L2421.6,1065.7L2427.2,1066.8L2432.8,1067.9L2438.3,1068.9L2443.9,1069.8L2449.5,1070.7L2455.0,1071.5L2460.6,1072.3L2466.2,1073.0L2471.7,1073.7L2477.3,1074.3L2482.9,1074.9L2488.4,1075.5L2494.0,1076.0L2499.6,1076.5L2505.2,1076.9L2510.7,1077.3L2516.3,1077.7L2521.9,1078.1L2527.4,1078.4L2533.0,1078.8L2538.6,1079.1L2544.1,1079.3L2549.7,1079.6L2555.3,1079.8L2560.8,1080.0L2566.4,1080.2L2572.0,1080.4L2577.6,1080.6L2583.1,1080.8L2588.7,1080.9L2594.3,1081.0L2599.8,1081.2L2605.4,1081.3L2611.0,1081.4L2616.5,1081.5L2622.1,1081.6L2627.7,1081.7L2633.2,1081.7L2638.8,1081.8L2644.4,1081.9L2649.9,1081.9L2655.5,1082.0L2661.1,1082.0L2666.7,1082.1L2672.2,1082.1L2677.8,1082.1L2683.4,1082.2L2688.9,1082.2L2694.5,1082.2" fill="none" stroke="#6a6a6a" stroke-width="4.4" stroke-linejoin="round"/>
<line x1="203.0" y1="37" x2="203.0" y2="1086.3999999999999" stroke="#141414" stroke-width="3.3"/>
<line x1="187" y1="1084.8" x2="1299.5" y2="1084.8" stroke="#141414" stroke-width="3.3"/>
<line x1="185.0" y1="1084.8" x2="203.0" y2="1084.8" stroke="#141414" stroke-width="3.3"/>
<line x1="193.0" y1="1051.8" x2="203.0" y2="1051.8" stroke="#141414" stroke-width="3.3"/>
<line x1="193.0" y1="1018.8" x2="203.0" y2="1018.8" stroke="#141414" stroke-width="3.3"/>
<line x1="193.0" y1="985.8" x2="203.0" y2="985.8" stroke="#141414" stroke-width="3.3"/>
<line x1="193.0" y1="952.8" x2="203.0" y2="952.8" stroke="#141414" stroke-width="3.3"/>
<line x1="185.0" y1="919.8" x2="203.0" y2="919.8" stroke="#141414" stroke-width="3.3"/>
<line x1="193.0" y1="886.8" x2="203.0" y2="886.8" stroke="#141414" stroke-width="3.3"/>
<line x1="193.0" y1="853.8" x2="203.0" y2="853.8" stroke="#141414" stroke-width="3.3"/>
<line x1="193.0" y1="820.8" x2="203.0" y2="820.8" stroke="#141414" stroke-width="3.3"/>
<line x1="193.0" y1="787.8" x2="203.0" y2="787.8" stroke="#141414" stroke-width="3.3"/>
<line x1="185.0" y1="754.8" x2="203.0" y2="754.8" stroke="#141414" stroke-width="3.3"/>
<line x1="193.0" y1="721.8" x2="203.0" y2="721.8" stroke="#141414" stroke-width="3.3"/>
<line x1="193.0" y1="688.8" x2="203.0" y2="688.8" stroke="#141414" stroke-width="3.3"/>
<line x1="193.0" y1="655.8" x2="203.0" y2="655.8" stroke="#141414" stroke-width="3.3"/>
<line x1="193.0" y1="622.8" x2="203.0" y2="622.8" stroke="#141414" stroke-width="3.3"/>
<line x1="185.0" y1="589.8" x2="203.0" y2="589.8" stroke="#141414" stroke-width="3.3"/>
<line x1="193.0" y1="556.8" x2="203.0" y2="556.8" stroke="#141414" stroke-width="3.3"/>
<line x1="193.0" y1="523.8" x2="203.0" y2="523.8" stroke="#141414" stroke-width="3.3"/>
<line x1="193.0" y1="490.8" x2="203.0" y2="490.8" stroke="#141414" stroke-width="3.3"/>
<line x1="193.0" y1="457.8" x2="203.0" y2="457.8" stroke="#141414" stroke-width="3.3"/>
<line x1="185.0" y1="424.8" x2="203.0" y2="424.8" stroke="#141414" stroke-width="3.3"/>
<line x1="193.0" y1="391.8" x2="203.0" y2="391.8" stroke="#141414" stroke-width="3.3"/>
<line x1="193.0" y1="358.8" x2="203.0" y2="358.8" stroke="#141414" stroke-width="3.3"/>
<line x1="193.0" y1="325.8" x2="203.0" y2="325.8" stroke="#141414" stroke-width="3.3"/>
<line x1="193.0" y1="292.8" x2="203.0" y2="292.8" stroke="#141414" stroke-width="3.3"/>
<line x1="185.0" y1="259.8" x2="203.0" y2="259.8" stroke="#141414" stroke-width="3.3"/>
<line x1="193.0" y1="226.8" x2="203.0" y2="226.8" stroke="#141414" stroke-width="3.3"/>
<line x1="193.0" y1="193.8" x2="203.0" y2="193.8" stroke="#141414" stroke-width="3.3"/>
<line x1="193.0" y1="160.8" x2="203.0" y2="160.8" stroke="#141414" stroke-width="3.3"/>
<line x1="193.0" y1="127.8" x2="203.0" y2="127.8" stroke="#141414" stroke-width="3.3"/>
<line x1="185.0" y1="94.8" x2="203.0" y2="94.8" stroke="#141414" stroke-width="3.3"/>
<line x1="193.0" y1="61.8" x2="203.0" y2="61.8" stroke="#141414" stroke-width="3.3"/>
<line x1="241.7" y1="1084.8" x2="241.7" y2="1093.8" stroke="#141414" stroke-width="3.3"/>
<line x1="285.8" y1="1084.8" x2="285.8" y2="1093.8" stroke="#141414" stroke-width="3.3"/>
<line x1="329.8" y1="1084.8" x2="329.8" y2="1093.8" stroke="#141414" stroke-width="3.3"/>
<line x1="373.9" y1="1084.8" x2="373.9" y2="1093.8" stroke="#141414" stroke-width="3.3"/>
<line x1="417.9" y1="1084.8" x2="417.9" y2="1101.8" stroke="#141414" stroke-width="3.3"/>
<line x1="461.9" y1="1084.8" x2="461.9" y2="1093.8" stroke="#141414" stroke-width="3.3"/>
<line x1="506.0" y1="1084.8" x2="506.0" y2="1093.8" stroke="#141414" stroke-width="3.3"/>
<line x1="550.0" y1="1084.8" x2="550.0" y2="1093.8" stroke="#141414" stroke-width="3.3"/>
<line x1="594.1" y1="1084.8" x2="594.1" y2="1093.8" stroke="#141414" stroke-width="3.3"/>
<line x1="638.1" y1="1084.8" x2="638.1" y2="1101.8" stroke="#141414" stroke-width="3.3"/>
<line x1="682.1" y1="1084.8" x2="682.1" y2="1093.8" stroke="#141414" stroke-width="3.3"/>
<line x1="726.2" y1="1084.8" x2="726.2" y2="1093.8" stroke="#141414" stroke-width="3.3"/>
<line x1="770.2" y1="1084.8" x2="770.2" y2="1093.8" stroke="#141414" stroke-width="3.3"/>
<line x1="814.3" y1="1084.8" x2="814.3" y2="1093.8" stroke="#141414" stroke-width="3.3"/>
<line x1="858.3" y1="1084.8" x2="858.3" y2="1101.8" stroke="#141414" stroke-width="3.3"/>
<line x1="902.3" y1="1084.8" x2="902.3" y2="1093.8" stroke="#141414" stroke-width="3.3"/>
<line x1="946.4" y1="1084.8" x2="946.4" y2="1093.8" stroke="#141414" stroke-width="3.3"/>
<line x1="990.4" y1="1084.8" x2="990.4" y2="1093.8" stroke="#141414" stroke-width="3.3"/>
<line x1="1034.5" y1="1084.8" x2="1034.5" y2="1093.8" stroke="#141414" stroke-width="3.3"/>
<line x1="1078.5" y1="1084.8" x2="1078.5" y2="1101.8" stroke="#141414" stroke-width="3.3"/>
<line x1="1122.5" y1="1084.8" x2="1122.5" y2="1093.8" stroke="#141414" stroke-width="3.3"/>
<line x1="1166.6" y1="1084.8" x2="1166.6" y2="1093.8" stroke="#141414" stroke-width="3.3"/>
<line x1="1210.6" y1="1084.8" x2="1210.6" y2="1093.8" stroke="#141414" stroke-width="3.3"/>
<line x1="1254.7" y1="1084.8" x2="1254.7" y2="1093.8" stroke="#141414" stroke-width="3.3"/>
<line x1="1580.7" y1="48" x2="1580.7" y2="1084.4" stroke="#1c1c1c" stroke-width="4"/>
<line x1="1564" y1="1082.5" x2="2696.5" y2="1082.5" stroke="#1c1c1c" stroke-width="4"/>
<line x1="1562.7" y1="1082.5" x2="1580.7" y2="1082.5" stroke="#141414" stroke-width="3.3"/>
<line x1="1570.7" y1="955.8" x2="1580.7" y2="955.8" stroke="#141414" stroke-width="3.3"/>
<line x1="1562.7" y1="829.0" x2="1580.7" y2="829.0" stroke="#141414" stroke-width="3.3"/>
<line x1="1570.7" y1="702.2" x2="1580.7" y2="702.2" stroke="#141414" stroke-width="3.3"/>
<line x1="1562.7" y1="575.5" x2="1580.7" y2="575.5" stroke="#141414" stroke-width="3.3"/>
<line x1="1570.7" y1="448.8" x2="1580.7" y2="448.8" stroke="#141414" stroke-width="3.3"/>
<line x1="1562.7" y1="322.0" x2="1580.7" y2="322.0" stroke="#141414" stroke-width="3.3"/>
<line x1="1570.7" y1="195.2" x2="1580.7" y2="195.2" stroke="#141414" stroke-width="3.3"/>
<line x1="1562.7" y1="68.5" x2="1580.7" y2="68.5" stroke="#141414" stroke-width="3.3"/>
<line x1="1624.7" y1="1082.5" x2="1624.7" y2="1092.5" stroke="#141414" stroke-width="3.3"/>
<line x1="1669.3" y1="1082.5" x2="1669.3" y2="1092.5" stroke="#141414" stroke-width="3.3"/>
<line x1="1713.8" y1="1082.5" x2="1713.8" y2="1092.5" stroke="#141414" stroke-width="3.3"/>
<line x1="1758.4" y1="1082.5" x2="1758.4" y2="1092.5" stroke="#141414" stroke-width="3.3"/>
<line x1="1803.0" y1="1082.5" x2="1803.0" y2="1098.5" stroke="#141414" stroke-width="3.3"/>
<line x1="1847.6" y1="1082.5" x2="1847.6" y2="1092.5" stroke="#141414" stroke-width="3.3"/>
<line x1="1892.2" y1="1082.5" x2="1892.2" y2="1092.5" stroke="#141414" stroke-width="3.3"/>
<line x1="1936.7" y1="1082.5" x2="1936.7" y2="1092.5" stroke="#141414" stroke-width="3.3"/>
<line x1="1981.3" y1="1082.5" x2="1981.3" y2="1092.5" stroke="#141414" stroke-width="3.3"/>
<line x1="2025.9" y1="1082.5" x2="2025.9" y2="1098.5" stroke="#141414" stroke-width="3.3"/>
<line x1="2070.5" y1="1082.5" x2="2070.5" y2="1092.5" stroke="#141414" stroke-width="3.3"/>
<line x1="2115.1" y1="1082.5" x2="2115.1" y2="1092.5" stroke="#141414" stroke-width="3.3"/>
<line x1="2159.6" y1="1082.5" x2="2159.6" y2="1092.5" stroke="#141414" stroke-width="3.3"/>
<line x1="2204.2" y1="1082.5" x2="2204.2" y2="1092.5" stroke="#141414" stroke-width="3.3"/>
<line x1="2248.8" y1="1082.5" x2="2248.8" y2="1098.5" stroke="#141414" stroke-width="3.3"/>
<line x1="2293.4" y1="1082.5" x2="2293.4" y2="1092.5" stroke="#141414" stroke-width="3.3"/>
<line x1="2338.0" y1="1082.5" x2="2338.0" y2="1092.5" stroke="#141414" stroke-width="3.3"/>
<line x1="2382.5" y1="1082.5" x2="2382.5" y2="1092.5" stroke="#141414" stroke-width="3.3"/>
<line x1="2427.1" y1="1082.5" x2="2427.1" y2="1092.5" stroke="#141414" stroke-width="3.3"/>
<line x1="2471.7" y1="1082.5" x2="2471.7" y2="1098.5" stroke="#141414" stroke-width="3.3"/>
<line x1="2516.3" y1="1082.5" x2="2516.3" y2="1092.5" stroke="#141414" stroke-width="3.3"/>
<line x1="2560.9" y1="1082.5" x2="2560.9" y2="1092.5" stroke="#141414" stroke-width="3.3"/>
<line x1="2605.4" y1="1082.5" x2="2605.4" y2="1092.5" stroke="#141414" stroke-width="3.3"/>
<line x1="2650.0" y1="1082.5" x2="2650.0" y2="1092.5" stroke="#141414" stroke-width="3.3"/>
<text x="171" y="1101.0" font-family="'Liberation Sans', sans-serif" font-size="38" text-anchor="end" fill="#2b2b2b" textLength="19.6" lengthAdjust="spacingAndGlyphs" stroke="#2b2b2b" stroke-width="0.6">0</text>
<text x="171" y="936.0" font-family="'Liberation Sans', sans-serif" font-size="38" text-anchor="end" fill="#2b2b2b" textLength="58.9" lengthAdjust="spacingAndGlyphs" stroke="#2b2b2b" stroke-width="0.6">250</text>
<text x="171" y="771.0" font-family="'Liberation Sans', sans-serif" font-size="38" text-anchor="end" fill="#2b2b2b" textLength="58.9" lengthAdjust="spacingAndGlyphs" stroke="#2b2b2b" stroke-width="0.6">500</text>
<text x="171" y="606.0" font-family="'Liberation Sans', sans-serif" font-size="38" text-anchor="end" fill="#2b2b2b" textLength="58.9" lengthAdjust="spacingAndGlyphs" stroke="#2b2b2b" stroke-width="0.6">750</text>
<text x="171" y="441.0" font-family="'Liberation Sans', sans-serif" font-size="38" text-anchor="end" fill="#2b2b2b" textLength="78.6" lengthAdjust="spacingAndGlyphs" stroke="#2b2b2b" stroke-width="0.6">1000</text>
<text x="171" y="276.0" font-family="'Liberation Sans', sans-serif" font-size="38" text-anchor="end" fill="#2b2b2b" textLength="78.6" lengthAdjust="spacingAndGlyphs" stroke="#2b2b2b" stroke-width="0.6">1250</text>
<text x="171" y="111.0" font-family="'Liberation Sans', sans-serif" font-size="38" text-anchor="end" fill="#2b2b2b" textLength="78.6" lengthAdjust="spacingAndGlyphs" stroke="#2b2b2b" stroke-width="0.6">1500</text>
<text x="418.9" y="1148.6" font-family="'Liberation Sans', sans-serif" font-size="38" text-anchor="middle" fill="#2b2b2b" textLength="39.3" lengthAdjust="spacingAndGlyphs" stroke="#2b2b2b" stroke-width="0.6">10</text>
<text x="639.1" y="1148.6" font-family="'Liberation Sans', sans-serif" font-size="38" text-anchor="middle" fill="#2b2b2b" textLength="39.3" lengthAdjust="spacingAndGlyphs" stroke="#2b2b2b" stroke-width="0.6">20</text>
<text x="859.3" y="1148.6" font-family="'Liberation Sans', sans-serif" font-size="38" text-anchor="middle" fill="#2b2b2b" textLength="39.3" lengthAdjust="spacingAndGlyphs" stroke="#2b2b2b" stroke-width="0.6">30</text>
<text x="1079.5" y="1148.6" font-family="'Liberation Sans', sans-serif" font-size="38" text-anchor="middle" fill="#2b2b2b" textLength="39.3" lengthAdjust="spacingAndGlyphs" stroke="#2b2b2b" stroke-width="0.6">40</text>
<text x="559.5" y="1202.6" font-family="'Liberation Sans', sans-serif" font-size="38" text-anchor="start" fill="#2b2b2b" textLength="380" lengthAdjust="spacingAndGlyphs" stroke="#2b2b2b" stroke-width="0.6">C2C absolute distances</text>
<text transform="translate(54.6,611.5) rotate(-90)" font-family="'Liberation Sans', sans-serif" font-size="38" fill="#2b2b2b" textLength="97" lengthAdjust="spacingAndGlyphs" stroke="#2b2b2b" stroke-width="0.6">Count</text>
<text x="1549" y="1098.5" font-family="'Liberation Sans', sans-serif" font-size="39" text-anchor="end" fill="#2b2b2b" textLength="20.2" lengthAdjust="spacingAndGlyphs" stroke="#2b2b2b" stroke-width="0.6">0</text>
<text x="1549" y="845.0" font-family="'Liberation Sans', sans-serif" font-size="39" text-anchor="end" fill="#2b2b2b" textLength="80.7" lengthAdjust="spacingAndGlyphs" stroke="#2b2b2b" stroke-width="0.6">1000</text>
<text x="1549" y="591.5" font-family="'Liberation Sans', sans-serif" font-size="39" text-anchor="end" fill="#2b2b2b" textLength="80.7" lengthAdjust="spacingAndGlyphs" stroke="#2b2b2b" stroke-width="0.6">2000</text>
<text x="1549" y="338.0" font-family="'Liberation Sans', sans-serif" font-size="39" text-anchor="end" fill="#2b2b2b" textLength="80.7" lengthAdjust="spacingAndGlyphs" stroke="#2b2b2b" stroke-width="0.6">3000</text>
<text x="1549" y="84.5" font-family="'Liberation Sans', sans-serif" font-size="39" text-anchor="end" fill="#2b2b2b" textLength="80.7" lengthAdjust="spacingAndGlyphs" stroke="#2b2b2b" stroke-width="0.6">4000</text>
<text x="1804.0" y="1147.5" font-family="'Liberation Sans', sans-serif" font-size="39" text-anchor="middle" fill="#2b2b2b" textLength="40.3" lengthAdjust="spacingAndGlyphs" stroke="#2b2b2b" stroke-width="0.6">10</text>
<text x="2026.9" y="1147.5" font-family="'Liberation Sans', sans-serif" font-size="39" text-anchor="middle" fill="#2b2b2b" textLength="40.3" lengthAdjust="spacingAndGlyphs" stroke="#2b2b2b" stroke-width="0.6">20</text>
<text x="2249.8" y="1147.5" font-family="'Liberation Sans', sans-serif" font-size="39" text-anchor="middle" fill="#2b2b2b" textLength="40.3" lengthAdjust="spacingAndGlyphs" stroke="#2b2b2b" stroke-width="0.6">30</text>
<text x="2472.7" y="1147.5" font-family="'Liberation Sans', sans-serif" font-size="39" text-anchor="middle" fill="#2b2b2b" textLength="40.3" lengthAdjust="spacingAndGlyphs" stroke="#2b2b2b" stroke-width="0.6">40</text>
<text x="1939" y="1203.5" font-family="'Liberation Sans', sans-serif" font-size="39" text-anchor="start" fill="#2b2b2b" textLength="397" lengthAdjust="spacingAndGlyphs" stroke="#2b2b2b" stroke-width="0.6">C2C absolute distances</text>
<text transform="translate(1427,616) rotate(-90)" font-family="'Liberation Sans', sans-serif" font-size="39" fill="#2b2b2b" textLength="99.5" lengthAdjust="spacingAndGlyphs" stroke="#2b2b2b" stroke-width="0.6">Count</text>
<text x="205.5" y="139.6" font-family="'Liberation Serif', sans-serif" font-size="65" text-anchor="start" fill="#111" textLength="481.5" lengthAdjust="spacingAndGlyphs">μ = 23.4; σ = 11.7</text>
<text x="2201.5" y="822.6" font-family="'Liberation Serif', sans-serif" font-size="65" text-anchor="start" fill="#111" textLength="453.5" lengthAdjust="spacingAndGlyphs">μ = 12.6; σ = 9.6</text>
<g id="objL"><path d="M967.9,131.5L982.9,145.4L1004.3,161.5L1036.5,174.4L1068.6,178.7L1094.4,170.1L1111.5,157.2L1118.0,208.7L1118.0,270.0L1117.1,365.8L1120.6,472.3L1106.7,488.5L1090.5,497.7L1067.3,501.2L1032.6,498.9L997.9,488.5L967.8,472.3L953.9,456.1L949.3,442.2L952.0,388.9L956.2,342.6L962.0,284.7L965.3,213.0Z" fill="url(#cyl)"/>
<path d="M1112.6,236.6L1154.4,229.0L1182.3,222.0L1240.2,220.5L1240.6,191.5L1248.7,187.9L1258.4,193.7L1262.7,206.5L1264.8,219.4L1261.6,234.4L1263.8,270.0L1264.6,319.5L1262.3,388.9L1257.7,441.0L1194.7,443.3L1160.0,449.1L1136.8,458.4L1118.3,473.4L1113.7,365.8L1112.6,270.0Z" fill="url(#rbody)"/>
<path d="M1112.6,236.6L1154.4,229.0L1182.3,222.0L1240.2,220.5L1240.6,191.5L1248.7,187.9L1258.4,193.7L1262.7,206.5L1264.8,219.4L1261.6,234.4L1263.8,270.0L1264.6,319.5L1262.3,388.9L1257.7,441.0L1194.7,443.3L1160.0,449.1L1136.8,458.4L1118.3,473.4L1113.7,365.8L1112.6,270.0Z" fill="url(#rtop)"/>
<line x1="1125" y1="290" x2="1262" y2="290" stroke="#ff5020" stroke-opacity="0.10" stroke-width="2"/>
<line x1="1125" y1="299" x2="1262" y2="299" stroke="#ff5020" stroke-opacity="0.10" stroke-width="2"/>
<line x1="1125" y1="308" x2="1262" y2="308" stroke="#ff5020" stroke-opacity="0.10" stroke-width="2"/>
<line x1="1125" y1="317" x2="1262" y2="317" stroke="#ff5020" stroke-opacity="0.10" stroke-width="2"/>
<line x1="1125" y1="326" x2="1262" y2="326" stroke="#ff5020" stroke-opacity="0.10" stroke-width="2"/>
<line x1="1125" y1="335" x2="1262" y2="335" stroke="#ff5020" stroke-opacity="0.10" stroke-width="2"/>
<line x1="1125" y1="344" x2="1262" y2="344" stroke="#ff5020" stroke-opacity="0.10" stroke-width="2"/>
<line x1="1125" y1="353" x2="1262" y2="353" stroke="#ff5020" stroke-opacity="0.10" stroke-width="2"/>
<line x1="1125" y1="362" x2="1262" y2="362" stroke="#ff5020" stroke-opacity="0.10" stroke-width="2"/>
<line x1="1125" y1="371" x2="1262" y2="371" stroke="#ff5020" stroke-opacity="0.10" stroke-width="2"/>
<line x1="1125" y1="380" x2="1262" y2="380" stroke="#ff5020" stroke-opacity="0.10" stroke-width="2"/>
<line x1="1125" y1="389" x2="1262" y2="389" stroke="#ff5020" stroke-opacity="0.10" stroke-width="2"/>
<line x1="1125" y1="398" x2="1262" y2="398" stroke="#ff5020" stroke-opacity="0.10" stroke-width="2"/>
<line x1="1125" y1="407" x2="1262" y2="407" stroke="#ff5020" stroke-opacity="0.10" stroke-width="2"/>
<line x1="1125" y1="416" x2="1262" y2="416" stroke="#ff5020" stroke-opacity="0.10" stroke-width="2"/>
<line x1="1125" y1="425" x2="1262" y2="425" stroke="#ff5020" stroke-opacity="0.10" stroke-width="2"/>
<line x1="1125" y1="434" x2="1262" y2="434" stroke="#ff5020" stroke-opacity="0.10" stroke-width="2"/>
<line x1="1010" y1="300" x2="1108" y2="302" stroke="#803030" stroke-opacity="0.10" stroke-width="2"/>
<line x1="1010" y1="308" x2="1108" y2="310" stroke="#803030" stroke-opacity="0.10" stroke-width="2"/>
<line x1="1010" y1="316" x2="1108" y2="318" stroke="#803030" stroke-opacity="0.10" stroke-width="2"/>
<line x1="1010" y1="324" x2="1108" y2="326" stroke="#803030" stroke-opacity="0.10" stroke-width="2"/>
<line x1="1010" y1="332" x2="1108" y2="334" stroke="#803030" stroke-opacity="0.10" stroke-width="2"/>
<line x1="1010" y1="340" x2="1108" y2="342" stroke="#803030" stroke-opacity="0.10" stroke-width="2"/>
<line x1="1010" y1="348" x2="1108" y2="350" stroke="#803030" stroke-opacity="0.10" stroke-width="2"/>
<line x1="1010" y1="356" x2="1108" y2="358" stroke="#803030" stroke-opacity="0.10" stroke-width="2"/>
<line x1="1010" y1="364" x2="1108" y2="366" stroke="#803030" stroke-opacity="0.10" stroke-width="2"/>
<line x1="1010" y1="372" x2="1108" y2="374" stroke="#803030" stroke-opacity="0.10" stroke-width="2"/>
<line x1="1010" y1="380" x2="1108" y2="382" stroke="#803030" stroke-opacity="0.10" stroke-width="2"/>
<line x1="1010" y1="388" x2="1108" y2="390" stroke="#803030" stroke-opacity="0.10" stroke-width="2"/>
<line x1="1010" y1="396" x2="1108" y2="398" stroke="#803030" stroke-opacity="0.10" stroke-width="2"/>
<line x1="1010" y1="404" x2="1108" y2="406" stroke="#803030" stroke-opacity="0.10" stroke-width="2"/>
<line x1="1010" y1="412" x2="1108" y2="414" stroke="#803030" stroke-opacity="0.10" stroke-width="2"/>
<line x1="1010" y1="420" x2="1108" y2="422" stroke="#803030" stroke-opacity="0.10" stroke-width="2"/>
<line x1="1010" y1="428" x2="1108" y2="430" stroke="#803030" stroke-opacity="0.10" stroke-width="2"/>
<line x1="1010" y1="436" x2="1108" y2="438" stroke="#803030" stroke-opacity="0.10" stroke-width="2"/>
<line x1="1010" y1="444" x2="1108" y2="446" stroke="#803030" stroke-opacity="0.10" stroke-width="2"/>
<line x1="1010" y1="452" x2="1108" y2="454" stroke="#803030" stroke-opacity="0.10" stroke-width="2"/>
<line x1="1010" y1="460" x2="1108" y2="462" stroke="#803030" stroke-opacity="0.10" stroke-width="2"/>
<line x1="1010" y1="468" x2="1108" y2="470" stroke="#803030" stroke-opacity="0.10" stroke-width="2"/>
<line x1="1010" y1="476" x2="1108" y2="478" stroke="#803030" stroke-opacity="0.10" stroke-width="2"/>
<line x1="1010" y1="484" x2="1108" y2="486" stroke="#803030" stroke-opacity="0.10" stroke-width="2"/>
<path d="M1060.1,120.8L1111.5,101.5L1156.6,90.8L1156.6,127.2L1111.5,159.4L1094.4,171.2L1068.6,170.1L1047.2,140.1Z" fill="url(#back)"/>
<path d="M1111.5,101.5L1154.4,90.8L1155.1,230.1L1145.8,220.5L1118.0,209.8L1111.5,157.2Z" fill="url(#ocol)"/>
<path d="M1154.4,125.1L1182.3,127.2L1182.3,222.6L1154.4,230.1Z" fill="#e4120a"/>
<path d="M1154.4,110.1L1170.5,112.2L1171.6,127.2L1154.4,125.1Z" fill="#b01010"/>
<path d="M1116.9,211.9L1152.3,229.0L1119.0,250.5Z" fill="#f8e8d8" stroke="#d83010" stroke-width="2"/>
<path d="M1124.4,225.8L1143.7,231.2L1125.5,244.1Z" fill="#38a820"/>
<path d="M1121.2,219.4L1133.0,223.7L1122.2,234.4Z" fill="#fff"/>
<path d="M1186.6,222.0C1186.8,216.9 1186.7,197.7 1187.9,191.5C1189.0,185.4 1191.4,185.1 1193.2,185.1C1195.0,185.1 1197.5,185.4 1198.6,191.5C1199.7,197.7 1199.6,216.9 1199.9,222.0" fill="#30a820" stroke="#e04010" stroke-width="3"/>
<path d="M1193.9,193.7L1198.1,193.7L1199.0,220.3L1194.7,220.3Z" fill="#e8b020" opacity="0.8"/>
<path d="M1218.3,222.0C1218.5,216.3 1218.4,194.5 1219.6,187.7C1220.7,180.9 1223.3,181.2 1225.2,181.2C1227.0,181.2 1229.6,180.9 1230.7,187.7C1231.9,194.5 1231.8,216.3 1232.0,222.0" fill="#30a820" stroke="#e04010" stroke-width="3"/>
<path d="M1225.6,189.8L1230.3,189.8L1231.2,220.3L1226.4,220.3Z" fill="#e8b020" opacity="0.8"/>
<path d="M1240.2,220.5L1240.6,191.5L1248.7,187.9L1258.4,193.7L1262.7,206.5L1264.8,219.4L1261.6,234.4L1240.2,234.4Z" fill="#ff9a18" stroke="#d83008" stroke-width="2.5"/>
<path d="M1240.2,234.4L1261.6,234.4L1262.7,255.8L1240.2,255.8Z" fill="url(#rtop)"/>
<path d="M1264.2,213.0C1263.8,216.5 1261.6,228.0 1261.6,234.4C1261.6,240.8 1264.1,245.6 1264.2,251.6C1264.3,257.5 1262.2,267.2 1262.0,270.0C1261.8,272.8 1262.4,265.7 1263.0,268.5C1263.5,271.4 1265.3,280.1 1265.3,287.0C1265.3,294.0 1263.1,302.5 1263.0,310.2C1262.9,317.9 1264.9,325.2 1264.8,333.4C1264.8,341.5 1262.7,350.3 1262.5,358.8C1262.3,367.3 1264.0,375.4 1263.7,384.3C1263.4,393.2 1261.4,402.8 1260.7,412.1C1259.9,421.3 1259.3,435.2 1259.1,439.9" fill="none" stroke="#c83008" stroke-width="3"/>
<path d="M1165.1,97.2L1175.8,68.2L1194.1,66.1L1194.1,114.3L1182.3,124.0L1172.6,114.3Z" fill="#0e8a14" stroke="#d42a10" stroke-width="2"/>
<path d="M1193.4,70.4L1221.3,74.7L1221.3,114.3L1214.4,119.1L1190.9,119.1Z" fill="url(#ycol)" stroke="#d42a10" stroke-width="3"/>
<path d="M972.2,129.8L1030.1,111.1L1111.5,92.9L1111.5,117.6L1068.6,124.0L1055.8,140.1L1060.1,157.2L1077.2,171.2L1036.5,173.3L1004.3,159.4L975.4,137.5Z" fill="url(#spk)" stroke="#d42a10" stroke-width="3" stroke-linejoin="round"/>
<path d="M984.0,127.2C991.6,124.5 1014.1,115.7 1030.1,111.1C1046.0,106.5 1064.0,103.2 1079.4,99.8C1094.7,96.3 1110.5,94.3 1122.2,90.3C1134.0,86.4 1141.2,81.6 1150.1,76.2C1159.1,70.7 1167.3,63.0 1175.8,57.5C1184.4,52.0 1193.0,46.3 1201.6,43.2C1210.2,40.0 1218.7,38.7 1227.3,38.9C1235.9,39.0 1245.2,40.7 1253.0,44.0C1260.9,47.3 1267.3,52.9 1274.5,58.6C1281.6,64.2 1289.1,71.5 1295.9,77.9C1302.7,84.3 1309.5,91.6 1315.2,97.2C1320.9,102.7 1327.7,108.8 1330.2,111.1" fill="none" stroke="#d42a10" stroke-width="31.4" stroke-linecap="round" stroke-linejoin="round"/>
<path d="M1330.2,111.1C1331.3,112.2 1337.0,114.5 1336.7,117.6C1336.3,120.6 1333.4,126.2 1328.1,129.3C1322.7,132.5 1313.4,135.2 1304.5,136.2C1295.6,137.2 1283.0,136.6 1274.5,135.4C1266.0,134.1 1256.1,132.4 1253.5,128.9C1250.8,125.4 1256.1,119.8 1258.4,114.3C1260.6,108.9 1265.5,99.2 1267.0,96.1" fill="none" stroke="#d42a10" stroke-width="20.0" stroke-linecap="round" stroke-linejoin="round"/>
<path d="M977.5,136.9C982.0,140.4 994.5,152.6 1004.3,158.3C1014.1,164.0 1025.8,168.4 1036.5,171.2C1047.2,173.9 1059.0,175.4 1068.6,174.8C1078.3,174.2 1087.4,170.7 1094.4,167.5C1101.3,164.3 1107.8,157.5 1110.5,155.5" fill="none" stroke="#d42a10" stroke-width="16.0" stroke-linecap="round" stroke-linejoin="round"/>
<path d="M1269.1,97.2C1268.1,99.7 1265.2,107.2 1263.2,112.2C1261.3,117.2 1258.3,124.7 1257.3,127.2" fill="none" stroke="#d42a10" stroke-width="9.0" stroke-linecap="round" stroke-linejoin="round"/>
<path d="M1291.6,99.3C1290.9,102.0 1288.8,110.1 1287.3,115.4C1285.9,120.8 1283.8,128.8 1283.1,131.5" fill="none" stroke="#d42a10" stroke-width="9.0" stroke-linecap="round" stroke-linejoin="round"/>
<path d="M1309.9,102.5C1309.4,105.0 1308.1,112.2 1307.2,117.0C1306.3,121.8 1304.9,129.1 1304.5,131.5" fill="none" stroke="#d42a10" stroke-width="9.0" stroke-linecap="round" stroke-linejoin="round"/>
<path d="M984.0,127.2C991.6,124.5 1014.1,115.7 1030.1,111.1C1046.0,106.5 1064.0,103.2 1079.4,99.8C1094.7,96.3 1110.5,94.3 1122.2,90.3C1134.0,86.4 1141.2,81.6 1150.1,76.2C1159.1,70.7 1167.3,63.0 1175.8,57.5C1184.4,52.0 1193.0,46.3 1201.6,43.2C1210.2,40.0 1218.7,38.7 1227.3,38.9C1235.9,39.0 1245.2,40.7 1253.0,44.0C1260.9,47.3 1267.3,52.9 1274.5,58.6C1281.6,64.2 1289.1,71.5 1295.9,77.9C1302.7,84.3 1309.5,91.6 1315.2,97.2C1320.9,102.7 1327.7,108.8 1330.2,111.1" fill="none" stroke="url(#spk)" stroke-width="25" stroke-linecap="round" stroke-linejoin="round"/>
<path d="M1330.2,111.1C1331.3,112.2 1337.0,114.5 1336.7,117.6C1336.3,120.6 1333.4,126.2 1328.1,129.3C1322.7,132.5 1313.4,135.2 1304.5,136.2C1295.6,137.2 1283.0,136.6 1274.5,135.4C1266.0,134.1 1256.1,132.4 1253.5,128.9C1250.8,125.4 1256.1,119.8 1258.4,114.3C1260.6,108.9 1265.5,99.2 1267.0,96.1" fill="none" stroke="url(#spk)" stroke-width="11" stroke-linecap="round" stroke-linejoin="round"/>
<path d="M977.5,136.9C982.0,140.4 994.5,152.6 1004.3,158.3C1014.1,164.0 1025.8,168.4 1036.5,171.2C1047.2,173.9 1059.0,175.4 1068.6,174.8C1078.3,174.2 1087.4,170.7 1094.4,167.5C1101.3,164.3 1107.8,157.5 1110.5,155.5" fill="none" stroke="url(#spk)" stroke-width="11" stroke-linecap="round" stroke-linejoin="round"/>
<path d="M1269.1,97.2C1268.1,99.7 1265.2,107.2 1263.2,112.2C1261.3,117.2 1258.3,124.7 1257.3,127.2" fill="none" stroke="url(#spk)" stroke-width="6" stroke-linecap="round" stroke-linejoin="round"/>
<path d="M1291.6,99.3C1290.9,102.0 1288.8,110.1 1287.3,115.4C1285.9,120.8 1283.8,128.8 1283.1,131.5" fill="none" stroke="url(#spk)" stroke-width="6" stroke-linecap="round" stroke-linejoin="round"/>
<path d="M1309.9,102.5C1309.4,105.0 1308.1,112.2 1307.2,117.0C1306.3,121.8 1304.9,129.1 1304.5,131.5" fill="none" stroke="url(#spk)" stroke-width="6" stroke-linecap="round" stroke-linejoin="round"/>
<ellipse cx="1068" cy="157" rx="30" ry="9" fill="#d89494" stroke="#c42020" stroke-width="6" transform="rotate(8 1068 157)"/>
<ellipse cx="1070" cy="156" rx="11" ry="3" fill="#f0e4e4" transform="rotate(8 1070 156)"/>
<ellipse cx="1022" cy="140" rx="6" ry="3.5" fill="#f8f0e0" transform="rotate(-30 1022 140)"/>
<path d="M1200.5,60.3C1201.9,58.5 1212.5,56.0 1218.7,56.0C1225.0,56.0 1232.0,57.7 1238.0,60.3C1244.1,62.9 1251.2,67.5 1255.2,71.5C1259.1,75.5 1263.4,82.7 1261.6,84.3C1259.8,85.9 1250.2,82.5 1244.5,81.1C1238.7,79.7 1230.5,78.0 1227.3,76.2C1224.1,74.4 1228.0,72.0 1225.2,70.4C1222.3,68.8 1214.3,68.4 1210.2,66.7C1206.0,65.1 1199.1,62.1 1200.5,60.3Z" fill="#f6f0e0" stroke="#d42a10" stroke-width="2.5"/>
<path d="M1226.2,82.6C1229.3,77.5 1238.7,82.1 1244.5,83.7C1250.2,85.2 1259.2,88.1 1261.0,91.8C1262.8,95.5 1257.3,100.9 1255.2,105.8C1253.1,110.6 1253.1,119.3 1248.3,120.8C1243.5,122.2 1229.9,120.7 1226.2,114.3C1222.6,108.0 1223.2,87.7 1226.2,82.6Z" fill="#fff"/>
<ellipse cx="1290" cy="163" rx="8" ry="13" fill="#f0a020" stroke="#b81c0c" stroke-width="4" transform="rotate(-12 1290 163)"/>
<ellipse cx="1290" cy="161" rx="3.6" ry="6.5" fill="#a0c820" transform="rotate(-12 1290 163)"/>
<circle cx="1288" cy="167" r="2.5" fill="#e84010"/>
<ellipse cx="1291" cy="193" rx="8" ry="13" fill="#f0a020" stroke="#b81c0c" stroke-width="4" transform="rotate(-12 1291 193)"/>
<ellipse cx="1291" cy="191" rx="3.6" ry="6.5" fill="#a0c820" transform="rotate(-12 1291 193)"/>
<circle cx="1289" cy="197" r="2.5" fill="#e84010"/>
<ellipse cx="1292.5" cy="219" rx="8" ry="11" fill="#f0a020" stroke="#b81c0c" stroke-width="4" transform="rotate(-12 1292.5 219)"/>
<ellipse cx="1292.5" cy="217" rx="3.6" ry="5.5" fill="#a0c820" transform="rotate(-12 1292.5 219)"/>
<circle cx="1290.5" cy="223" r="2.5" fill="#e84010"/>
<ellipse cx="1291.5" cy="246" rx="8" ry="12" fill="#f0a020" stroke="#b81c0c" stroke-width="4" transform="rotate(-12 1291.5 246)"/>
<ellipse cx="1291.5" cy="244" rx="3.6" ry="6.0" fill="#a0c820" transform="rotate(-12 1291.5 246)"/>
<circle cx="1289.5" cy="250" r="2.5" fill="#e84010"/>
<ellipse cx="1293.5" cy="268" rx="7" ry="9" fill="#f0a020" stroke="#b81c0c" stroke-width="4" transform="rotate(-12 1293.5 268)"/>
<ellipse cx="1293.5" cy="266" rx="3.1" ry="4.5" fill="#a0c820" transform="rotate(-12 1293.5 268)"/>
<circle cx="1291.5" cy="272" r="2.5" fill="#e84010"/>
<ellipse cx="1299.5" cy="305" rx="9" ry="14" fill="#f0a020" stroke="#b81c0c" stroke-width="4" transform="rotate(-12 1299.5 305)"/>
<ellipse cx="1299.5" cy="303" rx="4.0" ry="7.0" fill="#a0c820" transform="rotate(-12 1299.5 305)"/>
<circle cx="1297.5" cy="309" r="2.5" fill="#e84010"/>
<path d="M1291,140 L1290,152" stroke="#b81c0c" stroke-width="10"/></g>
<g id="objR"><path d="M1945.9,383.1C1946.9,370.9 1950.6,341.3 1953.8,322.8C1957.0,304.3 1960.4,287.9 1964.9,272.0C1969.4,256.2 1975.2,239.3 1980.8,227.6C1986.3,216.0 1990.8,209.7 1998.2,202.3C2005.6,194.9 2016.4,187.7 2025.2,183.2C2033.9,178.7 2047.1,172.7 2050.5,175.3C2054.0,177.9 2047.6,190.4 2045.8,199.1C2043.9,207.8 2040.3,219.7 2039.4,227.6C2038.5,235.6 2042.8,241.1 2040.4,246.7C2038.0,252.2 2032.2,254.1 2025.2,260.9C2018.1,267.8 2004.0,277.6 1998.2,287.9C1992.4,298.2 1993.7,308.5 1990.3,322.8C1986.8,337.1 1981.3,359.8 1977.6,373.6C1973.9,387.3 1971.8,399.7 1968.1,405.3C1964.4,410.8 1958.8,408.4 1955.4,406.9C1951.9,405.3 1949.0,399.7 1947.4,395.8C1945.9,391.8 1944.8,395.2 1945.9,383.1Z" fill="url(#leg)"/>
<path d="M1945.9,383.1C1946.9,370.9 1950.6,341.3 1953.8,322.8C1957.0,304.3 1960.4,287.9 1964.9,272.0C1969.4,256.2 1975.2,239.3 1980.8,227.6C1986.3,216.0 1990.8,209.7 1998.2,202.3C2005.6,194.9 2016.4,187.7 2025.2,183.2C2033.9,178.7 2047.1,172.7 2050.5,175.3C2054.0,177.9 2047.6,190.4 2045.8,199.1C2043.9,207.8 2040.3,219.7 2039.4,227.6C2038.5,235.6 2042.8,241.1 2040.4,246.7C2038.0,252.2 2032.2,254.1 2025.2,260.9C2018.1,267.8 2004.0,277.6 1998.2,287.9C1992.4,298.2 1993.7,308.5 1990.3,322.8C1986.8,337.1 1981.3,359.8 1977.6,373.6C1973.9,387.3 1971.8,399.7 1968.1,405.3C1964.4,410.8 1958.8,408.4 1955.4,406.9C1951.9,405.3 1949.0,399.7 1947.4,395.8C1945.9,391.8 1944.8,395.2 1945.9,383.1Z" fill="url(#legv)"/>
<path d="M1998.2,287.9L2041.0,227.6L2082.3,170.5" fill="none" stroke="#188a90" stroke-width="10.0" stroke-linecap="round" stroke-linejoin="round"/>
<path d="M1998.2,287.9L2041.0,227.6L2082.3,170.5" fill="none" stroke="#0e44c0" stroke-width="7.0" stroke-linecap="round" stroke-linejoin="round"/>
<path d="M2006.1,253.0L2025.2,214.9L2050.5,180.1" fill="none" stroke="#1878b0" stroke-width="4.0" stroke-linecap="round" stroke-linejoin="round"/>
<path d="M1977.6,367.2L1988.7,313.3L1998.2,287.9" fill="none" stroke="#30c040" stroke-width="4.0" stroke-linecap="round" stroke-linejoin="round"/>
<path d="M2050.5,176.9L2069.6,145.2L2088.6,115.0L2120.3,92.8L2231.3,69.7L2278.9,64.9L2253.9,64.7L2403.0,93.3L2545.8,159.9L2554.1,180.0L2609.5,255.0L2635.5,316.9L2651.8,382.1L2650.2,434.2" fill="none" stroke="#1a9a70" stroke-width="14.5" stroke-linecap="round" stroke-linejoin="round"/>
<path d="M2050.5,176.9L2069.6,145.2L2088.6,115.0L2120.3,92.8L2231.3,69.7L2278.9,64.9L2253.9,64.7L2403.0,93.3L2545.8,159.9L2554.1,180.0L2609.5,255.0L2635.5,316.9L2651.8,382.1L2650.2,434.2" fill="none" stroke="#0e44c0" stroke-width="10.0" stroke-linecap="round" stroke-linejoin="round"/>
<path d="M2075.9,145.2L2107.6,118.2L2225.0,92.8L2250.4,85.5L2253.9,84.4L2390.3,113.6L2529.9,183.4L2534.5,199.6L2603.0,310.4" fill="none" stroke="#188a90" stroke-width="12.5" stroke-linecap="round" stroke-linejoin="round"/>
<path d="M2075.9,145.2L2107.6,118.2L2225.0,92.8L2250.4,85.5L2253.9,84.4L2390.3,113.6L2529.9,183.4L2534.5,199.6L2603.0,310.4" fill="none" stroke="#0e44c0" stroke-width="9.0" stroke-linecap="round" stroke-linejoin="round"/>
<path d="M2133.0,97.6L2215.5,81.7" fill="none" stroke="#40d060" stroke-width="3.0" stroke-linecap="round" stroke-linejoin="round"/>
<path d="M2415.7,101.9L2517.2,151.0" fill="none" stroke="#e8fff0" stroke-width="3.0" stroke-linecap="round" stroke-linejoin="round"/>
<path d="M2563.8,193.0L2604.6,256.6" fill="none" stroke="#b8f890" stroke-width="9.0" stroke-linecap="round" stroke-linejoin="round"/>
<path d="M2554.1,180.0L2609.5,255.0" fill="none" stroke="#28c848" stroke-width="5.0" stroke-linecap="round" stroke-linejoin="round"/>
<path d="M2082.3,168.0L2215.5,130.9L2228.2,127.1" fill="none" stroke="#18a060" stroke-width="11.0" stroke-linecap="round" stroke-linejoin="round"/>
<path d="M2082.3,168.0L2215.5,130.9L2228.2,127.1" fill="none" stroke="#22dc28" stroke-width="8.0" stroke-linecap="round" stroke-linejoin="round"/>
<path d="M2090.2,126.1L2085.4,164.2" fill="none" stroke="#1460a8" stroke-width="19.0" stroke-linecap="butt" stroke-linejoin="round"/>
<path d="M2090.2,126.1L2085.4,164.2" fill="none" stroke="#1a9a60" stroke-width="16.0" stroke-linecap="butt" stroke-linejoin="round"/>
<path d="M2232.9,83.3L2225.0,126.1" fill="none" stroke="#20b048" stroke-width="23.0" stroke-linecap="butt" stroke-linejoin="round"/>
<path d="M2232.9,83.3L2225.0,126.1" fill="none" stroke="#58f030" stroke-width="20.0" stroke-linecap="butt" stroke-linejoin="round"/>
<path d="M2228.2,127.1L2250.4,130.9L2330.0,145.2" fill="none" stroke="#18a060" stroke-width="11.0" stroke-linecap="round" stroke-linejoin="round"/>
<path d="M2228.2,127.1L2250.4,130.9L2330.0,145.2" fill="none" stroke="#22dc28" stroke-width="8.0" stroke-linecap="round" stroke-linejoin="round"/>
<path d="M2219.0,132.0L2241.2,126.3L2304.7,138.3L2364.9,148.5" fill="none" stroke="#20c050" stroke-width="11.0" stroke-linecap="round" stroke-linejoin="round"/>
<path d="M2219.0,132.0L2241.2,126.3L2304.7,138.3L2364.9,148.5" fill="none" stroke="#1a78b0" stroke-width="8.0" stroke-linecap="round" stroke-linejoin="round"/>
<path d="M2241.2,126.3L2282.5,133.9" fill="none" stroke="#22dc28" stroke-width="6.0" stroke-linecap="round" stroke-linejoin="round"/>
<path d="M2238.1,87.6L2229.2,126.3" fill="none" stroke="#20b048" stroke-width="23.0" stroke-linecap="butt" stroke-linejoin="round"/>
<path d="M2238.1,87.6L2229.2,126.3" fill="none" stroke="#58f030" stroke-width="20.0" stroke-linecap="butt" stroke-linejoin="round"/>
<path d="M2390.3,116.1L2378.3,149.4" fill="none" stroke="#188a90" stroke-width="21.0" stroke-linecap="butt" stroke-linejoin="round"/>
<path d="M2390.3,116.1L2378.3,149.4" fill="none" stroke="#0e44c0" stroke-width="18.0" stroke-linecap="butt" stroke-linejoin="round"/>
<path d="M2403.0,93.3L2398.3,108.2" fill="none" stroke="#30e030" stroke-width="12.0" stroke-linecap="butt" stroke-linejoin="round"/>
<path d="M2383.3,158.0L2491.8,234.1L2504.5,234.1" fill="none" stroke="#188a90" stroke-width="11.0" stroke-linecap="round" stroke-linejoin="round"/>
<path d="M2383.3,158.0L2491.8,234.1L2504.5,234.1" fill="none" stroke="#0e44c0" stroke-width="8.0" stroke-linecap="round" stroke-linejoin="round"/>
<path d="M2531.5,189.1L2505.2,235.1" fill="none" stroke="#188a90" stroke-width="20.0" stroke-linecap="butt" stroke-linejoin="round"/>
<path d="M2531.5,189.1L2505.2,235.1" fill="none" stroke="#0e44c0" stroke-width="17.0" stroke-linecap="butt" stroke-linejoin="round"/>
<path d="M2545.8,159.9L2536.2,184.3" fill="none" stroke="#20a858" stroke-width="13.0" stroke-linecap="butt" stroke-linejoin="round"/>
<path d="M2505.2,239.8L2558.4,369.9" fill="none" stroke="#20c048" stroke-width="12.0" stroke-linecap="round" stroke-linejoin="round"/>
<path d="M2505.2,239.8L2558.4,369.9" fill="none" stroke="#0f50b8" stroke-width="8.0" stroke-linecap="round" stroke-linejoin="round"/>
<path d="M2554.1,372.9L2611.1,314.3" fill="none" stroke="#188a90" stroke-width="16.0" stroke-linecap="butt" stroke-linejoin="round"/>
<path d="M2554.1,372.9L2611.1,314.3" fill="none" stroke="#0e44c0" stroke-width="13.0" stroke-linecap="butt" stroke-linejoin="round"/>
<path d="M2554.7,382.1L2612.7,323.4L2635.5,388.6L2649.2,427.7L2642.7,451.2L2616.0,480.5L2583.4,505.9L2558.0,526.1L2554.1,505.9L2556.7,440.7Z" fill="url(#p5)" stroke="#0f48c0" stroke-width="5" stroke-linejoin="round"/>
<path d="M2565.5,388.6L2612.1,333.2L2632.3,388.6" fill="none" stroke="#40e040" stroke-width="2.5" stroke-linecap="round" stroke-linejoin="round"/>
<path d="M2612.7,272.9L2629.0,277.8L2652.5,375.5L2650.2,434.2L2642.1,450.5L2635.5,388.6L2612.7,323.4Z" fill="#28d030" stroke="#1858b8" stroke-width="3" stroke-linejoin="round"/>
<path d="M2652.5,382.1L2664.9,414.7L2662.3,431.6L2655.1,408.1Z" fill="#ff9a10" stroke="#ffd040" stroke-width="2"/>
<path d="M2553.4,518.9L2570.4,515.7L2565.5,527.4L2554.7,528.1Z" fill="#80e020"/>
<path d="M1977.6,253.0C1977.3,245.6 1982.1,235.6 1985.5,227.6C1988.9,219.7 1996.9,203.3 1998.2,205.4C1999.5,207.5 1995.3,229.2 1993.4,240.3C1991.6,251.4 1989.7,269.9 1987.1,272.0C1984.5,274.2 1977.8,260.4 1977.6,253.0Z" fill="#e8f030" opacity="0.7"/>
<path d="M1944.3,383.1L1949.0,379.9L1952.2,398.9L1945.9,397.3Z" fill="#1838c8"/></g>
</svg>
</div>
</body></html>
